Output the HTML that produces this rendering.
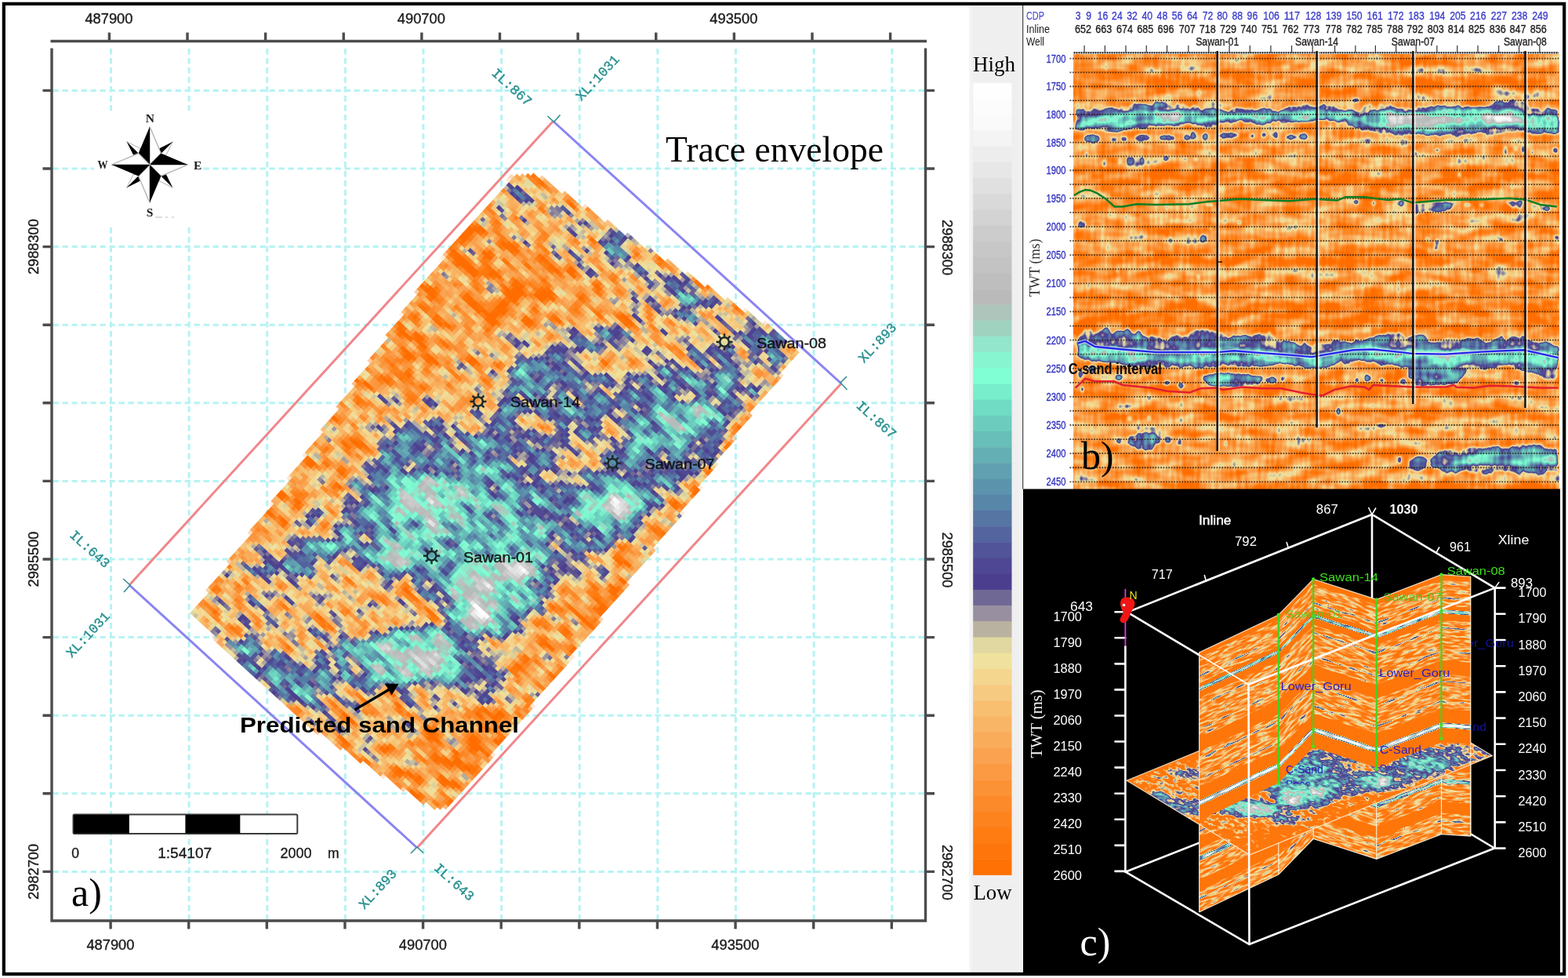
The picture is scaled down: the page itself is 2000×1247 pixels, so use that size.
<!DOCTYPE html>
<html lang="en">
<head>
<meta charset="utf-8">
<title>Trace envelope attribute map, seismic section and 3D view</title>
<style>
html,body{margin:0;padding:0;background:#fff;}
body{width:2000px;height:1247px;overflow:hidden;}
svg{display:block;}
.sans{font-family:"Liberation Sans","DejaVu Sans",sans-serif;}
.serif{font-family:"Liberation Serif","DejaVu Serif",serif;}
.mono{font-family:"Liberation Mono","DejaVu Sans Mono",monospace;}
text{white-space:pre;}
</style>
</head>
<body>
<svg width="2000" height="1247" viewBox="0 0 2000 1247">
<defs>

<clipPath id="mapclip"><polygon points="243,783 353,633 513,400 545,352 655,222 684,222 775,283 975,412 1021,447 960,525 873,650 741,823 580,1023 565,1031 550,1030 413,940 375,910 300,840"/></clipPath>
<filter id="mapblur" filterUnits="userSpaceOnUse" x="100" y="100" width="1100" height="1100" color-interpolation-filters="sRGB"><feGaussianBlur stdDeviation="7"/></filter>
<filter id="mapf" filterUnits="userSpaceOnUse" x="621" y="-371" width="510" height="803" color-interpolation-filters="sRGB">
<feTurbulence type="fractalNoise" baseFrequency="0.04 0.07" numOctaves="2" seed="11" result="n"/>
<feColorMatrix in="n" type="matrix" values="1 0 0 0 0  1 0 0 0 0  1 0 0 0 0  0 0 0 0 1" result="ng"/>
<feComposite in="SourceGraphic" in2="ng" operator="arithmetic" k1="0" k2="1" k3="0.72" k4="-0.36" result="s"/>
<feComposite in="s" in2="SourceGraphic" operator="in" result="sm"/>
<feFlood x="623" y="-369" width="1" height="1" flood-color="#000" result="px"/>
<feComposite in="px" in2="px" operator="over" x="621" y="-371" width="5" height="5" result="cell"/>
<feTile in="cell" result="grid"/>
<feComposite in="sm" in2="grid" operator="in" result="samp"/>
<feMorphology in="samp" operator="dilate" radius="2" result="mos"/>
<feComponentTransfer in="mos" result="col">
<feFuncR type="table" tableValues="1.000 0.999 0.998 0.998 0.997 0.996 0.995 0.993 0.991 0.990 0.988 0.987 0.985 0.984 0.982 0.980 0.979 0.977 0.976 0.974 0.973 0.971 0.969 0.967 0.965 0.957 0.949 0.941 0.910 0.878 0.804 0.729 0.663 0.596 0.518 0.439 0.369 0.298 0.303 0.308 0.314 0.319 0.324 0.329 0.333 0.337 0.341 0.345 0.353 0.361 0.369 0.376 0.384 0.392 0.400 0.408 0.416 0.424 0.431 0.439 0.455 0.471 0.486 0.502 0.518 0.533 0.549 0.575 0.601 0.627 0.651 0.678 0.714 0.729 0.738 0.747 0.755 0.764 0.773 0.782 0.791 0.800 0.813 0.826 0.839 0.852 0.865 0.878 0.892 0.905 0.918 0.930 0.943 0.955 0.968 0.980 0.984 0.988 0.992 0.996 1.000"/>
<feFuncG type="table" tableValues="0.431 0.442 0.453 0.464 0.475 0.486 0.500 0.515 0.529 0.543 0.557 0.573 0.588 0.604 0.620 0.635 0.654 0.673 0.692 0.711 0.729 0.751 0.773 0.794 0.816 0.839 0.863 0.886 0.867 0.847 0.773 0.698 0.631 0.565 0.486 0.408 0.325 0.243 0.261 0.280 0.298 0.329 0.361 0.392 0.425 0.459 0.492 0.525 0.551 0.576 0.602 0.627 0.657 0.686 0.716 0.745 0.775 0.804 0.833 0.863 0.897 0.931 0.966 1.000 0.980 0.961 0.941 0.902 0.863 0.824 0.800 0.772 0.730 0.729 0.738 0.747 0.755 0.764 0.773 0.782 0.791 0.800 0.813 0.826 0.839 0.852 0.865 0.878 0.892 0.905 0.918 0.930 0.943 0.955 0.968 0.980 0.984 0.988 0.992 0.996 1.000"/>
<feFuncB type="table" tableValues="0.000 0.014 0.028 0.042 0.056 0.071 0.094 0.118 0.141 0.165 0.188 0.213 0.238 0.264 0.289 0.314 0.334 0.355 0.375 0.395 0.416 0.445 0.475 0.504 0.533 0.562 0.591 0.620 0.624 0.627 0.627 0.627 0.627 0.627 0.604 0.580 0.569 0.557 0.567 0.578 0.588 0.599 0.609 0.620 0.629 0.639 0.649 0.659 0.667 0.675 0.682 0.690 0.698 0.706 0.714 0.722 0.733 0.745 0.757 0.769 0.784 0.800 0.816 0.831 0.826 0.821 0.816 0.795 0.774 0.753 0.744 0.734 0.724 0.729 0.738 0.747 0.755 0.764 0.773 0.782 0.791 0.800 0.813 0.826 0.839 0.852 0.865 0.878 0.892 0.905 0.918 0.930 0.943 0.955 0.968 0.980 0.984 0.988 0.992 0.996 1.000"/>
</feComponentTransfer>
<feGaussianBlur in="col" stdDeviation="0.75"/>
</filter>
<filter id="slicef" filterUnits="userSpaceOnUse" x="621" y="-371" width="510" height="803" color-interpolation-filters="sRGB">
<feTurbulence type="fractalNoise" baseFrequency="0.055 0.085" numOctaves="3" seed="4" result="n"/>
<feColorMatrix in="n" type="matrix" values="1 0 0 0 0  1 0 0 0 0  1 0 0 0 0  0 0 0 0 1" result="ng"/>
<feComposite in="SourceGraphic" in2="ng" operator="arithmetic" k1="0" k2="1" k3="0.62" k4="-0.33" result="s"/>
<feComposite in="s" in2="SourceGraphic" operator="in" result="sm"/>
<feComponentTransfer in="sm">
<feFuncR type="table" tableValues="0.997 0.997 0.997 0.997 0.997 0.997 0.997 0.997 0.997 0.997 0.997 0.997 0.997 0.997 0.997 0.997 0.997 0.997 0.995 0.991 0.987 0.984 0.980 0.976 0.973 0.968 0.960 0.941 0.910 0.878 0.804 0.729 0.663 0.596 0.518 0.439 0.369 0.298 0.303 0.308 0.314 0.319 0.324 0.329 0.333 0.337 0.341 0.345 0.353 0.361 0.369 0.376 0.384 0.392 0.400 0.408 0.416 0.424 0.431 0.439 0.455 0.471 0.486 0.502 0.518 0.533 0.549 0.575 0.601 0.627 0.651 0.678 0.714 0.729 0.738 0.747 0.755 0.764 0.773 0.782 0.791 0.800 0.813 0.826 0.839 0.852 0.865 0.878 0.892 0.905 0.918 0.930 0.943 0.955 0.968 0.980 0.984 0.988 0.992 0.996 1.000"/>
<feFuncG type="table" tableValues="0.470 0.470 0.470 0.470 0.470 0.470 0.470 0.470 0.470 0.470 0.470 0.470 0.470 0.470 0.470 0.470 0.470 0.470 0.498 0.531 0.565 0.602 0.640 0.684 0.728 0.779 0.831 0.886 0.867 0.847 0.773 0.698 0.631 0.565 0.486 0.408 0.325 0.243 0.261 0.280 0.298 0.329 0.361 0.392 0.425 0.459 0.492 0.525 0.551 0.576 0.602 0.627 0.657 0.686 0.716 0.745 0.775 0.804 0.833 0.863 0.897 0.931 0.966 1.000 0.980 0.961 0.941 0.902 0.863 0.824 0.800 0.772 0.730 0.729 0.738 0.747 0.755 0.764 0.773 0.782 0.791 0.800 0.813 0.826 0.839 0.852 0.865 0.878 0.892 0.905 0.918 0.930 0.943 0.955 0.968 0.980 0.984 0.988 0.992 0.996 1.000"/>
<feFuncB type="table" tableValues="0.049 0.049 0.049 0.049 0.049 0.049 0.049 0.049 0.049 0.049 0.049 0.049 0.049 0.049 0.049 0.049 0.049 0.049 0.091 0.146 0.202 0.261 0.319 0.367 0.415 0.483 0.552 0.620 0.624 0.627 0.627 0.627 0.627 0.627 0.604 0.580 0.569 0.557 0.567 0.578 0.588 0.599 0.609 0.620 0.629 0.639 0.649 0.659 0.667 0.675 0.682 0.690 0.698 0.706 0.714 0.722 0.733 0.745 0.757 0.769 0.784 0.800 0.816 0.831 0.826 0.821 0.816 0.795 0.774 0.753 0.744 0.734 0.724 0.729 0.738 0.747 0.755 0.764 0.773 0.782 0.791 0.800 0.813 0.826 0.839 0.852 0.865 0.878 0.892 0.905 0.918 0.930 0.943 0.955 0.968 0.980 0.984 0.988 0.992 0.996 1.000"/>
</feComponentTransfer>
</filter>
<linearGradient id="cbg" x1="0" y1="0" x2="1" y2="0"><stop offset="0" stop-color="#f7f7f7"/><stop offset="0.08" stop-color="#efefef"/><stop offset="0.92" stop-color="#efefef"/><stop offset="1" stop-color="#f4f4f4"/></linearGradient>
<filter id="secblur" filterUnits="userSpaceOnUse" x="1339.5" y="39.5" width="678.7" height="614.1" color-interpolation-filters="sRGB"><feGaussianBlur stdDeviation="1.7"/></filter>
<filter id="secf" filterUnits="userSpaceOnUse" x="1369.5" y="69.5" width="618.7" height="554.1" color-interpolation-filters="sRGB">
<feTurbulence type="fractalNoise" baseFrequency="0.03 0.07" numOctaves="2" seed="5" result="n"/>
<feColorMatrix in="n" type="matrix" values="1 0 0 0 0  1 0 0 0 0  1 0 0 0 0  0 0 0 0 1" result="ng"/>
<feTurbulence type="fractalNoise" baseFrequency="0.22 0.03" numOctaves="1" seed="9" result="n2"/>
<feColorMatrix in="n2" type="matrix" values="1 0 0 0 0  1 0 0 0 0  1 0 0 0 0  0 0 0 0 1" result="ng2"/>
<feComposite in="ng" in2="ng2" operator="arithmetic" k1="0" k2="0.68" k3="0.32" k4="0" result="nn"/>
<feComposite in="SourceGraphic" in2="nn" operator="arithmetic" k1="0" k2="1" k3="0.74" k4="-0.37" result="s"/>
<feComponentTransfer in="s">
<feFuncR type="table" tableValues="1.000 0.999 0.998 0.998 0.997 0.996 0.995 0.993 0.991 0.990 0.988 0.987 0.985 0.984 0.982 0.980 0.979 0.977 0.976 0.974 0.973 0.971 0.969 0.967 0.965 0.957 0.949 0.941 0.910 0.878 0.804 0.729 0.663 0.596 0.518 0.439 0.369 0.298 0.303 0.308 0.314 0.319 0.324 0.329 0.333 0.337 0.341 0.345 0.353 0.361 0.369 0.376 0.384 0.392 0.400 0.408 0.416 0.424 0.431 0.439 0.455 0.471 0.486 0.502 0.518 0.533 0.549 0.575 0.601 0.627 0.651 0.678 0.714 0.729 0.738 0.747 0.755 0.764 0.773 0.782 0.791 0.800 0.813 0.826 0.839 0.852 0.865 0.878 0.892 0.905 0.918 0.930 0.943 0.955 0.968 0.980 0.984 0.988 0.992 0.996 1.000"/>
<feFuncG type="table" tableValues="0.431 0.442 0.453 0.464 0.475 0.486 0.500 0.515 0.529 0.543 0.557 0.573 0.588 0.604 0.620 0.635 0.654 0.673 0.692 0.711 0.729 0.751 0.773 0.794 0.816 0.839 0.863 0.886 0.867 0.847 0.773 0.698 0.631 0.565 0.486 0.408 0.325 0.243 0.261 0.280 0.298 0.329 0.361 0.392 0.425 0.459 0.492 0.525 0.551 0.576 0.602 0.627 0.657 0.686 0.716 0.745 0.775 0.804 0.833 0.863 0.897 0.931 0.966 1.000 0.980 0.961 0.941 0.902 0.863 0.824 0.800 0.772 0.730 0.729 0.738 0.747 0.755 0.764 0.773 0.782 0.791 0.800 0.813 0.826 0.839 0.852 0.865 0.878 0.892 0.905 0.918 0.930 0.943 0.955 0.968 0.980 0.984 0.988 0.992 0.996 1.000"/>
<feFuncB type="table" tableValues="0.000 0.014 0.028 0.042 0.056 0.071 0.094 0.118 0.141 0.165 0.188 0.213 0.238 0.264 0.289 0.314 0.334 0.355 0.375 0.395 0.416 0.445 0.475 0.504 0.533 0.562 0.591 0.620 0.624 0.627 0.627 0.627 0.627 0.627 0.604 0.580 0.569 0.557 0.567 0.578 0.588 0.599 0.609 0.620 0.629 0.639 0.649 0.659 0.667 0.675 0.682 0.690 0.698 0.706 0.714 0.722 0.733 0.745 0.757 0.769 0.784 0.800 0.816 0.831 0.826 0.821 0.816 0.795 0.774 0.753 0.744 0.734 0.724 0.729 0.738 0.747 0.755 0.764 0.773 0.782 0.791 0.800 0.813 0.826 0.839 0.852 0.865 0.878 0.892 0.905 0.918 0.930 0.943 0.955 0.968 0.980 0.984 0.988 0.992 0.996 1.000"/>
<feFuncA type="linear" slope="0" intercept="1"/>
</feComponentTransfer>
</filter>
<filter id="fblur" filterUnits="objectBoundingBox" x="-0.05" y="-0.05" width="1.1" height="1.1" color-interpolation-filters="sRGB"><feGaussianBlur stdDeviation="0.7"/></filter>
<filter id="fencef" filterUnits="objectBoundingBox" x="0" y="0" width="1" height="1" color-interpolation-filters="sRGB">
<feTurbulence type="fractalNoise" baseFrequency="0.07 0.38" numOctaves="2" seed="21" result="n"/>
<feColorMatrix in="n" type="matrix" values="1 0 0 0 0  1 0 0 0 0  1 0 0 0 0  0 0 0 0 1" result="ng"/>
<feComposite in="SourceGraphic" in2="ng" operator="arithmetic" k1="0" k2="1" k3="0.62" k4="-0.31" result="s"/>
<feComposite in="s" in2="SourceGraphic" operator="in" result="sm"/>
<feComponentTransfer in="sm">
<feFuncR type="table" tableValues="0.998 0.998 0.998 0.998 0.998 0.998 0.998 0.998 0.998 0.998 0.998 0.998 0.998 0.998 0.998 0.998 0.998 0.998 0.998 0.998 0.998 0.998 0.998 0.998 0.998 0.998 0.998 0.998 0.998 0.998 0.998 0.998 0.998 0.998 0.998 0.998 0.998 0.998 0.998 0.998 0.998 0.998 0.998 0.996 0.994 0.991 0.988 0.985 0.983 0.980 0.977 0.975 0.973 0.970 0.967 0.964 0.953 0.947 0.941 0.918 0.894 0.860 0.804 0.713 0.629 0.537 0.439 0.351 0.301 0.307 0.314 0.325 0.335 0.344 0.359 0.376 0.394 0.411 0.428 0.452 0.486 0.516 0.546 0.593 0.641 0.696 0.732 0.749 0.766 0.783 0.800 0.825 0.850 0.875 0.899 0.924 0.948 0.972 0.985 0.993 1.000"/>
<feFuncG type="table" tableValues="0.464 0.464 0.464 0.464 0.464 0.464 0.464 0.464 0.464 0.464 0.464 0.464 0.464 0.464 0.464 0.464 0.464 0.464 0.464 0.464 0.464 0.464 0.464 0.464 0.464 0.464 0.464 0.464 0.464 0.464 0.464 0.464 0.464 0.464 0.464 0.464 0.464 0.464 0.464 0.464 0.464 0.464 0.464 0.484 0.507 0.532 0.557 0.584 0.612 0.640 0.673 0.700 0.726 0.756 0.787 0.818 0.851 0.869 0.886 0.872 0.857 0.828 0.773 0.681 0.598 0.506 0.408 0.305 0.252 0.275 0.298 0.367 0.439 0.512 0.571 0.627 0.692 0.757 0.822 0.890 0.966 0.982 0.945 0.875 0.810 0.751 0.732 0.749 0.766 0.783 0.800 0.825 0.850 0.875 0.899 0.924 0.948 0.972 0.985 0.993 1.000"/>
<feFuncB type="table" tableValues="0.042 0.042 0.042 0.042 0.042 0.042 0.042 0.042 0.042 0.042 0.042 0.042 0.042 0.042 0.042 0.042 0.042 0.042 0.042 0.042 0.042 0.042 0.042 0.042 0.042 0.042 0.042 0.042 0.042 0.042 0.042 0.042 0.042 0.042 0.042 0.042 0.042 0.042 0.042 0.042 0.042 0.042 0.042 0.067 0.106 0.147 0.188 0.232 0.276 0.319 0.355 0.383 0.412 0.452 0.494 0.536 0.576 0.598 0.620 0.623 0.625 0.627 0.627 0.627 0.627 0.610 0.580 0.566 0.562 0.575 0.588 0.611 0.633 0.655 0.673 0.690 0.707 0.726 0.752 0.781 0.816 0.827 0.817 0.780 0.747 0.729 0.732 0.749 0.766 0.783 0.800 0.825 0.850 0.875 0.899 0.924 0.948 0.972 0.985 0.993 1.000"/>
</feComponentTransfer>
</filter>
<clipPath id="sliceclip"><polygon points="1437,995.2 1746.4,868.6 1903.4,963.6 1594,1090"/></clipPath>
<clipPath id="fsu0"><polygon points="1529.6,832 1631.1,784 1631.1,998 1529.6,1046"/></clipPath>
<clipPath id="fsl0"><polygon points="1529.6,1045.5 1631.1,997.5 1631.1,1115 1529.6,1163"/></clipPath>
<clipPath id="fsu1"><polygon points="1630.8,784 1675.5,738.5 1675.5,952.5 1630.8,998"/></clipPath>
<clipPath id="fsl1"><polygon points="1630.8,997.5 1675.5,952 1675.5,1069.5 1630.8,1115"/></clipPath>
<clipPath id="fsu2"><polygon points="1675.2,738.5 1756,764.4 1756,978.4 1675.2,952.5"/></clipPath>
<clipPath id="fsl2"><polygon points="1675.2,952 1756,977.9 1756,1095.4 1675.2,1069.5"/></clipPath>
<clipPath id="fsu3"><polygon points="1755.7,764.4 1838.8,732.6 1838.8,946.6 1755.7,978.4"/></clipPath>
<clipPath id="fsl3"><polygon points="1755.7,977.9 1838.8,946.1 1838.8,1063.6 1755.7,1095.4"/></clipPath>
<clipPath id="fsu4"><polygon points="1838.5,732.6 1876.1,735.2 1876.1,949.2 1838.5,946.6"/></clipPath>
<clipPath id="fsl4"><polygon points="1838.5,946.1 1876.1,948.7 1876.1,1066.2 1838.5,1063.6"/></clipPath>
<clipPath id="rgclip"><rect x="1876.5" y="790" width="60" height="160"/></clipPath>
<clipPath id="baseclip1"><rect x="1755" y="960" width="60" height="18.5"/></clipPath>
<clipPath id="baseclip2"><rect x="1635" y="980" width="60" height="19.5"/></clipPath>
</defs>
<rect x="0" y="0" width="2000" height="1247" fill="#ffffff"/>
<g id="panel-a">
<path d="M141.5 62V1173M241.12 62V1173M340.74 62V1173M440.36 62V1173M539.98 62V1173M639.6 62V1173M739.22 62V1173M838.84 62V1173M938.46 62V1173M1038.08 62V1173M1137.7 62V1173M67.5 115.4H1179M67.5 215H1179M67.5 314.6H1179M67.5 414.2H1179M67.5 513.8H1179M67.5 613.4H1179M67.5 713H1179M67.5 812.6H1179M67.5 912.2H1179M67.5 1011.8H1179M67.5 1111.4H1179" fill="none" stroke="#b6f3f3" stroke-width="3" stroke-dasharray="7.4 4.6"/>
<polygon points="247.67,781.12 356.35,632.92 514.43,402.71 546.04,355.29 654.72,226.85 683.38,226.85 773.28,287.12 970.88,414.57 1016.33,449.15 956.06,526.21 870.11,649.71 739.69,820.64 580.62,1018.24 565.8,1026.14 550.98,1025.15 415.63,936.23 378.08,906.59 303.98,837.43" fill="#fa9e4a"/>
<path d="M432.94 674.11C432.94 657.64 438.82 634.11 447.05 617.64C455.29 601.17 471.76 587.64 482.35 575.28C492.93 562.93 496.46 549.99 510.58 543.52C524.7 537.05 551.17 534.7 567.05 536.46C582.93 538.23 594.7 558.23 605.87 554.11C617.05 549.99 626.46 526.46 634.11 511.76C641.75 497.05 641.75 477.64 651.75 465.88C661.75 454.11 677.64 448.23 694.11 441.17C710.58 434.11 732.93 425.88 750.58 423.52C768.22 421.17 789.4 420.58 799.99 427.05C810.57 433.52 804.69 456.46 814.1 462.35C823.51 468.23 841.16 464.46 856.46 462.35C871.75 460.23 890.57 451.05 905.87 449.64C921.16 448.23 935.28 451.52 948.22 453.88C961.16 456.23 976.45 458.58 983.51 463.76C990.57 468.93 996.45 475.76 990.57 484.93C984.69 494.11 962.34 503.76 948.22 518.82C934.1 533.87 921.16 556.46 905.87 575.28C890.57 594.11 870.57 615.28 856.46 631.75C842.34 648.22 836.46 661.75 821.16 674.11C805.87 686.46 782.34 695.28 764.69 705.87C747.05 716.46 728.22 724.1 715.28 737.63C702.34 751.16 697.64 774.1 687.05 787.04C676.46 799.99 667.05 810.57 651.75 815.28C636.46 819.98 609.4 819.98 595.28 815.28C581.17 810.57 577.64 798.81 567.05 787.04C556.46 775.28 545.87 752.93 531.76 744.69C517.64 736.46 496.46 742.34 482.35 737.63C468.23 732.93 455.29 727.05 447.05 716.46C438.82 705.87 432.94 690.58 432.94 674.11Z" fill="#54649e" clip-path="url(#mapclip)"/>
<path d="M296.18 822.63C296.85 814.95 310.88 810.94 320.24 812.61C329.6 814.28 340.29 828.64 352.32 832.65C364.35 836.66 381.05 839.34 392.41 836.66C403.77 833.99 410.46 821.96 420.48 816.62C430.51 811.27 439.19 807.26 452.56 804.59C465.92 801.91 481.96 801.25 500.67 800.58C519.39 799.91 547.45 797.9 564.83 800.58C582.2 803.25 594.9 809.93 604.92 816.62C614.95 823.3 618.29 833.99 624.97 840.67C631.65 847.36 643.02 850.7 645.02 856.71C647.02 862.73 642.35 870.75 637 876.76C631.65 882.77 622.3 892.8 612.94 892.8C603.59 892.8 589.55 880.44 580.87 876.76C572.18 873.08 568.84 870.08 560.82 870.75C552.8 871.41 542.77 879.77 532.75 880.77C522.73 881.77 512.7 877.43 500.67 876.76C488.64 876.09 471.27 875.76 460.58 876.76C449.89 877.76 444.54 878.77 436.52 882.77C428.5 886.78 421.82 898.48 412.46 900.82C403.11 903.16 392.41 900.82 380.38 896.81C368.36 892.8 350.98 883.11 340.29 876.76C329.6 870.41 323.58 867.74 316.23 858.72C308.88 849.7 295.51 830.32 296.18 822.63Z" fill="#54649e" clip-path="url(#mapclip)"/>
<g transform="rotate(42.4)" filter="url(#mapf)">
<g transform="rotate(-42.4)" clip-path="url(#mapclip)">
<g filter="url(#mapblur)">
<rect x="150" y="150" width="1000" height="1000" fill="#252525"/>
<path d="M496.46 575.28C519.99 551.76 541.17 503.52 567.05 476.46C592.93 449.41 623.52 427.05 651.75 412.94C679.99 398.82 705.87 401.17 736.46 391.76C767.05 382.35 807.04 361.17 835.28 356.47C863.51 351.76 875.28 348.23 905.87 363.53C936.45 378.82 1007.04 423.52 1018.8 448.23C1030.57 472.93 1007.04 467.05 976.45 511.76C945.86 556.46 882.34 654.11 835.28 716.46C788.22 778.81 734.11 848.22 694.11 885.87C654.11 923.51 638.81 932.92 595.28 942.34C551.76 951.75 481.17 957.63 432.94 942.34C384.7 927.04 337.64 876.45 305.88 850.57C274.12 824.69 236.47 816.46 242.35 787.04C248.23 757.63 310.59 702.34 341.17 674.11C371.76 645.87 400 634.11 425.88 617.64C451.76 601.17 472.93 598.81 496.46 575.28Z" fill="#343434"/>
<path d="M700 250C711.67 247.5 736.67 270.83 760 285C783.33 299.17 814.17 318.33 840 335C865.83 351.67 890 368.33 915 385C940 401.67 982.5 420.83 990 435C997.5 449.17 975 469.17 960 470C945 470.83 920 448.33 900 440C880 431.67 856.67 430 840 420C823.33 410 816.67 393.33 800 380C783.33 366.67 758.33 353.33 740 340C721.67 326.67 696.67 315 690 300C683.33 285 688.33 252.5 700 250Z" fill="#3e3e3e"/>
<path d="M312.22 736.42C330.26 731.75 366.35 745.78 388.4 748.45C410.46 751.13 431.84 746.45 444.54 752.46C457.24 758.48 461.91 774.51 464.59 784.54C467.26 794.56 472.61 803.92 460.58 812.61C448.55 821.29 410.46 833.32 392.41 836.66C374.37 840.01 364.35 836.66 352.32 832.65C340.29 828.64 332.27 821.96 320.24 812.61C308.21 803.25 281.48 789.22 280.14 776.52C278.81 763.82 294.18 741.1 312.22 736.42Z" fill="#393939"/>
<path d="M640 235C653.33 230 686.67 230.83 700 240C713.33 249.17 726.67 280 720 290C713.33 300 676.67 303.33 660 300C643.33 296.67 623.33 280.83 620 270C616.67 259.17 626.67 240 640 235Z" fill="#3e3e3e"/>
<path d="M470 520C476.67 501.67 505 473.33 520 470C535 466.67 560 485 560 500C560 515 533.33 546.67 520 560C506.67 573.33 488.33 586.67 480 580C471.67 573.33 463.33 538.33 470 520Z" fill="#3e3e3e"/>
<path d="M432.94 674.11C432.94 657.64 438.82 634.11 447.05 617.64C455.29 601.17 471.76 587.64 482.35 575.28C492.93 562.93 496.46 549.99 510.58 543.52C524.7 537.05 551.17 534.7 567.05 536.46C582.93 538.23 594.7 558.23 605.87 554.11C617.05 549.99 626.46 526.46 634.11 511.76C641.75 497.05 641.75 477.64 651.75 465.88C661.75 454.11 677.64 448.23 694.11 441.17C710.58 434.11 732.93 425.88 750.58 423.52C768.22 421.17 789.4 420.58 799.99 427.05C810.57 433.52 804.69 456.46 814.1 462.35C823.51 468.23 841.16 464.46 856.46 462.35C871.75 460.23 890.57 451.05 905.87 449.64C921.16 448.23 935.28 451.52 948.22 453.88C961.16 456.23 976.45 458.58 983.51 463.76C990.57 468.93 996.45 475.76 990.57 484.93C984.69 494.11 962.34 503.76 948.22 518.82C934.1 533.87 921.16 556.46 905.87 575.28C890.57 594.11 870.57 615.28 856.46 631.75C842.34 648.22 836.46 661.75 821.16 674.11C805.87 686.46 782.34 695.28 764.69 705.87C747.05 716.46 728.22 724.1 715.28 737.63C702.34 751.16 697.64 774.1 687.05 787.04C676.46 799.99 667.05 810.57 651.75 815.28C636.46 819.98 609.4 819.98 595.28 815.28C581.17 810.57 577.64 798.81 567.05 787.04C556.46 775.28 545.87 752.93 531.76 744.69C517.64 736.46 496.46 742.34 482.35 737.63C468.23 732.93 455.29 727.05 447.05 716.46C438.82 705.87 432.94 690.58 432.94 674.11Z" fill="#6b6b6b"/>
<path d="M320.24 720.38C320.91 714.37 340.29 709.02 352.32 704.35C364.35 699.67 383.06 689.64 392.41 692.32C401.77 694.99 409.12 712.37 408.45 720.38C407.78 728.4 398.43 737.09 388.4 740.43C378.38 743.77 359.67 743.77 348.31 740.43C336.95 737.09 319.57 726.4 320.24 720.38Z" fill="#6b6b6b"/>
<path d="M296.18 822.63C296.85 814.95 310.88 810.94 320.24 812.61C329.6 814.28 340.29 828.64 352.32 832.65C364.35 836.66 381.05 839.34 392.41 836.66C403.77 833.99 410.46 821.96 420.48 816.62C430.51 811.27 439.19 807.26 452.56 804.59C465.92 801.91 481.96 801.25 500.67 800.58C519.39 799.91 547.45 797.9 564.83 800.58C582.2 803.25 594.9 809.93 604.92 816.62C614.95 823.3 618.29 833.99 624.97 840.67C631.65 847.36 643.02 850.7 645.02 856.71C647.02 862.73 642.35 870.75 637 876.76C631.65 882.77 622.3 892.8 612.94 892.8C603.59 892.8 589.55 880.44 580.87 876.76C572.18 873.08 568.84 870.08 560.82 870.75C552.8 871.41 542.77 879.77 532.75 880.77C522.73 881.77 512.7 877.43 500.67 876.76C488.64 876.09 471.27 875.76 460.58 876.76C449.89 877.76 444.54 878.77 436.52 882.77C428.5 886.78 421.82 898.48 412.46 900.82C403.11 903.16 392.41 900.82 380.38 896.81C368.36 892.8 350.98 883.11 340.29 876.76C329.6 870.41 323.58 867.74 316.23 858.72C308.88 849.7 295.51 830.32 296.18 822.63Z" fill="#6b6b6b"/>
<path d="M770 296C775 292.67 793.33 295 800 300C806.67 305 811.67 320 810 326C808.33 332 796.67 337 790 336C783.33 335 773.33 326.67 770 320C766.67 313.33 765 299.33 770 296Z" fill="#6b6b6b"/>
<path d="M850 342C854 339 864.33 339.67 872 348C879.67 356.33 893.67 381 896 392C898.33 403 891.67 413.33 886 414C880.33 414.67 868.33 404 862 396C855.67 388 850 375 848 366C846 357 846 345 850 342Z" fill="#6b6b6b"/>
<path d="M898 372C900.33 370 911.33 373 914 376C916.67 379 916.33 388 914 390C911.67 392 902.67 391 900 388C897.33 385 895.67 374 898 372Z" fill="#6b6b6b"/>
<path d="M966 414C972 410.33 984.33 413.67 990 418C995.67 422.33 999.33 431.67 1000 440C1000.67 448.33 999.67 463 994 468C988.33 473 972.67 474.67 966 470C959.33 465.33 954 449.33 954 440C954 430.67 960 417.67 966 414Z" fill="#6b6b6b"/>
<path d="M896 426C898.67 421.67 912 420.67 916 424C920 427.33 922.67 441.67 920 446C917.33 450.33 904 453.33 900 450C896 446.67 893.33 430.33 896 426Z" fill="#6b6b6b"/>
<path d="M650 236C652 233 660.33 235.67 662 240C663.67 244.33 662 259 660 262C658 265 651.67 262.33 650 258C648.33 253.67 648 239 650 236Z" fill="#6b6b6b"/>
<path d="M732.41 452.22C736.42 446.21 754.47 442.87 768.5 440.19C782.53 437.52 804.59 434.18 816.62 436.18C828.64 438.19 840.67 444.87 840.67 452.22C840.67 459.57 827.31 474.94 816.62 480.29C805.92 485.63 788.55 484.97 776.52 484.3C764.49 483.63 751.79 481.63 744.44 476.28C737.09 470.93 728.4 458.24 732.41 452.22Z" fill="#3e3e3e"/>
<path d="M692.32 584.54C696.33 577.19 715.71 574.51 728.4 568.5C741.1 562.49 759.14 555.13 768.5 548.45C777.86 541.77 779.19 528.4 784.54 528.4C789.89 528.4 803.25 539.1 800.58 548.45C797.9 557.81 779.19 574.51 768.5 584.54C757.81 594.56 747.12 603.92 736.42 608.6C725.73 613.27 711.7 616.62 704.35 612.61C697 608.6 688.31 591.89 692.32 584.54Z" fill="#3e3e3e"/>
<path d="M664.25 512.37C669.6 510.36 684.3 522.39 692.32 528.4C700.34 534.42 713.03 543.11 712.37 548.45C711.7 553.8 697 561.82 688.31 560.48C679.62 559.14 664.25 548.45 660.24 540.43C656.23 532.41 658.9 514.37 664.25 512.37Z" fill="#3e3e3e"/>
<path d="M856.71 432.17C864.06 426.83 884.78 420.81 892.8 424.15C900.82 427.5 908.17 444.87 904.83 452.22C901.49 459.57 882.11 467.59 872.75 468.26C863.39 468.93 851.37 462.25 848.69 456.23C846.02 450.22 849.36 437.52 856.71 432.17Z" fill="#3e3e3e"/>
<path d="M936.9 460.24C937.57 453.56 953.61 449.55 960.96 452.22C968.31 454.89 981.68 469.6 981.01 476.28C980.34 482.96 964.3 494.99 956.95 492.32C949.6 489.64 936.24 466.92 936.9 460.24Z" fill="#3e3e3e"/>
<path d="M444.54 752.46C452.56 741.1 465.92 734.42 476.62 732.41C487.31 730.41 499.34 735.09 508.69 740.43C518.05 745.78 526.74 756.47 532.75 764.49C538.77 772.51 550.13 782.53 544.78 788.55C539.43 794.56 514.71 796.57 500.67 800.58C486.64 804.59 472.61 812.61 460.58 812.61C448.55 812.61 431.17 810.6 428.5 800.58C425.83 790.55 436.52 763.82 444.54 752.46Z" fill="#343434"/>
<path d="M500.67 584.06C507.36 582.72 519.39 597.42 532.75 600.1C546.12 602.77 566.16 602.77 580.87 600.1C595.57 597.42 608.93 582.72 620.96 584.06C632.99 585.39 645.69 598.76 653.04 608.12C660.39 617.47 658.39 630.84 665.07 640.19C671.75 649.55 687.12 654.89 693.14 664.25C699.15 673.61 703.83 684.3 701.15 696.33C698.48 708.36 686.45 723.06 677.1 736.42C667.74 749.79 654.38 765.83 645.02 776.52C635.66 787.21 630.32 797.24 620.96 800.58C611.61 803.92 596.9 803.25 588.89 796.57C580.87 789.89 580.87 770.51 572.85 760.48C564.83 750.46 550.13 743.11 540.77 736.42C531.41 729.74 526.07 723.06 516.71 720.38C507.36 717.71 492.65 724.39 484.64 720.38C476.62 716.38 469.93 705.68 468.6 696.33C467.26 686.97 471.27 673.61 476.62 664.25C481.96 654.89 498 649.55 500.67 640.19C503.35 630.84 492.65 617.47 492.65 608.12C492.65 598.76 493.99 585.39 500.67 584.06Z" fill="#8a8a8a"/>
<path d="M508.69 608.12C516.04 603.44 528.74 610.79 540.77 612.13C552.8 613.46 571.51 610.12 580.87 616.13C590.22 622.15 596.9 637.52 596.9 648.21C596.9 658.9 590.22 673.61 580.87 680.29C571.51 686.97 552.8 689.64 540.77 688.31C528.74 686.97 516.04 680.29 508.69 672.27C501.34 664.25 496.66 650.88 496.66 640.19C496.66 629.5 501.34 612.79 508.69 608.12Z" fill="#9c9c9c"/>
<path d="M580.87 720.38C588.22 713.7 607.6 715.04 620.96 712.37C634.33 709.69 651.03 701.67 661.06 704.35C671.08 707.02 681.11 717.71 681.11 728.4C681.11 739.1 669.75 757.81 661.06 768.5C652.37 779.19 640.34 788.55 628.98 792.56C617.62 796.57 601.58 799.24 592.89 792.56C584.21 785.88 578.86 764.49 576.86 752.46C574.85 740.43 573.52 727.07 580.87 720.38Z" fill="#9c9c9c"/>
<path d="M460.58 824.64C466.59 817.62 485.97 808.26 500.67 804.59C515.38 800.91 535.76 800.24 548.79 802.58C561.82 804.92 573.52 810.94 578.86 818.62C584.21 826.31 583.54 840.67 580.87 848.69C578.19 856.71 572.18 863.06 562.82 866.74C553.47 870.41 537.43 871.41 524.73 870.75C512.03 870.08 496.66 866.74 486.64 862.73C476.62 858.72 468.93 853.04 464.59 846.69C460.24 840.34 454.56 831.65 460.58 824.64Z" fill="#9c9c9c"/>
<path d="M808.6 544.44C812.61 536.42 829.98 525.73 840.67 520.38C851.37 515.04 860.72 512.37 872.75 512.37C884.78 512.37 904.83 515.04 912.85 520.38C920.87 525.73 924.88 536.42 920.87 544.44C916.86 552.46 900.82 563.15 888.79 568.5C876.76 573.85 860.72 576.52 848.69 576.52C836.66 576.52 823.3 573.85 816.62 568.5C809.93 563.15 804.59 552.46 808.6 544.44Z" fill="#949494"/>
<path d="M732.41 634.66C737.43 628.31 751.46 620.63 762.49 618.62C773.51 616.62 789.89 618.95 798.57 622.63C807.26 626.31 813.27 633.99 814.61 640.67C815.95 647.36 812.94 657.05 806.59 662.73C800.24 668.41 786.54 673.42 776.52 674.76C766.5 676.09 753.8 673.75 746.45 670.75C739.1 667.74 734.75 662.73 732.41 656.71C730.07 650.7 727.4 641.01 732.41 634.66Z" fill="#9c9c9c"/>
<path d="M660.24 476.28C664.92 472.27 681.63 469.6 688.31 472.27C694.99 474.94 701.67 486.97 700.34 492.32C699 497.66 686.97 503.68 680.29 504.35C673.61 505.01 663.58 501.01 660.24 496.33C656.9 491.65 655.56 480.29 660.24 476.28Z" fill="#808080"/>
<path d="M300.19 824.64C304.2 820.63 318.24 817.95 324.25 820.63C330.26 823.3 336.95 835.33 336.28 840.67C335.61 846.02 326.26 852.03 320.24 852.7C314.23 853.37 303.53 849.36 300.19 844.68C296.85 840.01 296.18 828.64 300.19 824.64Z" fill="#808080"/>
<path d="M388.4 692.32C393.75 686.97 412.46 678.95 420.48 680.29C428.5 681.63 437.86 693.65 436.52 700.34C435.18 707.02 420.48 718.38 412.46 720.38C404.44 722.39 392.41 717.04 388.4 712.37C384.39 707.69 383.06 697.66 388.4 692.32Z" fill="#808080"/>
<path d="M340.29 864.73C344.97 862.73 363.68 865.4 372.37 868.74C381.05 872.08 392.41 880.77 392.41 884.78C392.41 888.79 380.38 893.47 372.37 892.8C364.35 892.13 349.64 885.45 344.3 880.77C338.95 876.09 335.61 866.74 340.29 864.73Z" fill="#808080"/>
<path d="M512.7 620.14C522.06 615.47 554.8 610.79 564.83 616.13C574.85 621.48 578.19 644.2 572.85 652.22C567.5 660.24 543.44 665.59 532.75 664.25C522.06 662.91 512.03 651.55 508.69 644.2C505.35 636.85 503.35 624.82 512.7 620.14Z" fill="#b8b8b8"/>
<path d="M488.64 696.33C492.65 690.98 511.37 688.31 516.71 692.32C522.06 696.33 524.73 715.04 520.72 720.38C516.71 725.73 498 728.4 492.65 724.39C487.31 720.38 484.64 701.67 488.64 696.33Z" fill="#b8b8b8"/>
<path d="M632.99 712.37C638.34 706.35 665.74 703.68 673.09 708.36C680.44 713.03 682.44 734.42 677.1 740.43C671.75 746.45 648.36 749.12 641.01 744.44C633.66 739.76 627.65 718.38 632.99 712.37Z" fill="#b8b8b8"/>
<path d="M580.87 736.42C586.21 725.73 612.94 727.07 620.96 732.41C628.98 737.76 628.98 757.81 628.98 768.5C628.98 779.19 627.65 791.89 620.96 796.57C614.28 801.25 595.57 806.59 588.89 796.57C582.2 786.54 575.52 747.12 580.87 736.42Z" fill="#b8b8b8"/>
<path d="M492.65 824.64C503.35 817.95 552.13 815.28 564.83 820.63C577.52 825.97 579.53 850.03 568.84 856.71C558.14 863.39 513.37 866.07 500.67 860.72C487.98 855.38 481.96 831.32 492.65 824.64Z" fill="#b8b8b8"/>
<path d="M594.9 778.52C598.91 775.52 616.62 775.52 620.96 778.52C625.31 781.53 624.97 793.56 620.96 796.57C616.95 799.57 601.25 799.57 596.9 796.57C592.56 793.56 590.89 781.53 594.9 778.52Z" fill="#f2f2f2"/>
<path d="M645.02 718.38C648.36 715.37 663.4 713.7 667.07 716.38C670.75 719.05 670.41 731.41 667.07 734.42C663.73 737.43 650.7 737.09 647.02 734.42C643.35 731.75 641.68 721.39 645.02 718.38Z" fill="#f2f2f2"/>
<path d="M544.78 828.64C547.45 826.31 558.14 826.31 560.82 828.64C563.49 830.98 563.49 840.34 560.82 842.68C558.14 845.02 547.45 845.02 544.78 842.68C542.11 840.34 542.11 830.98 544.78 828.64Z" fill="#f2f2f2"/>
<path d="M768.5 620.63C772.51 614.61 794.56 619.29 800.58 624.64C806.59 629.98 808.6 646.69 804.59 652.7C800.58 658.72 782.53 666.07 776.52 660.72C770.51 655.38 764.49 626.64 768.5 620.63Z" fill="#b8b8b8"/>
<path d="M780.53 640.67C783.54 638 795.57 638 798.57 640.67C801.58 643.35 801.58 654.04 798.57 656.71C795.57 659.39 783.54 659.39 780.53 656.71C777.52 654.04 777.52 643.35 780.53 640.67Z" fill="#f2f2f2"/>
<path d="M1013.09 456.23C1004.4 461.58 992.37 478.95 981.01 492.32C969.65 505.68 954.95 523.06 944.92 536.42C934.9 549.79 931.56 558.48 920.87 572.51C910.17 586.54 894.14 605.26 880.77 620.63C867.4 636 851.37 654.71 840.67 664.73C829.98 674.76 825.97 674.09 816.62 680.77C807.26 687.45 792.56 695.47 784.54 704.83C776.52 714.18 777.86 727.55 768.5 736.9C759.14 746.26 741.1 752.94 728.4 760.96C715.71 768.98 700.34 775.66 692.32 785.02C684.3 794.38 685.63 804.6 680.29 817.1C674.94 829.59 652.22 852.85 660.24 860C668.26 867.15 666.26 926.63 728.4 860C790.55 793.37 985.69 527.54 1033.14 460.24C1080.58 392.95 1021.77 450.88 1013.09 456.23Z" fill="#252525"/>
<path d="M600 290C615 286.67 643.33 291.67 660 300C676.67 308.33 690 325 700 340C710 355 723.33 376.67 720 390C716.67 403.33 696.67 418.33 680 420C663.33 421.67 636.67 410 620 400C603.33 390 588.33 373.33 580 360C571.67 346.67 566.67 331.67 570 320C573.33 308.33 585 293.33 600 290Z" fill="#1a1a1a"/>
<path d="M560 930C573.33 916.67 616.67 900 640 900C663.33 900 693.33 915 700 930C706.67 945 696.67 976.67 680 990C663.33 1003.33 620 1011.67 600 1010C580 1008.33 566.67 993.33 560 980C553.33 966.67 546.67 943.33 560 930Z" fill="#1a1a1a"/>
<path d="M480 440C483.33 426.67 506.67 418.33 520 420C533.33 421.67 556.67 436.67 560 450C563.33 463.33 550 491.67 540 500C530 508.33 510 510 500 500C490 490 476.67 453.33 480 440Z" fill="#1a1a1a"/>
</g></g></g>
<path d="M165 746L705.5 154.5M1073 489L532 1081" stroke="#f0868a" stroke-width="3" fill="none"/>
<path d="M705.5 154.5L1073 489M532 1081L165 746" stroke="#8a84f2" stroke-width="3" fill="none"/>
<path d="M698.5 148L706.5 155.5M706.5 155.5L714.5 146.5M1072 488L1080 480M1072 488L1080.5 497M524 1088L532 1080M532 1080L540 1087.5M157 738L166 746M166 746L158 755" stroke="#2f8f8f" stroke-width="1.6" fill="none"/>
<text class="mono" font-size="17.2" fill="#2b9191" stroke="#2b9191" stroke-width="0.45" text-anchor="middle" transform="translate(653 111) rotate(42)" y="5.68">IL:867</text>
<text class="mono" font-size="17.2" fill="#2b9191" stroke="#2b9191" stroke-width="0.45" text-anchor="middle" transform="translate(762 99) rotate(-47)" y="5.68">XL:1031</text>
<text class="mono" font-size="17.2" fill="#2b9191" stroke="#2b9191" stroke-width="0.45" text-anchor="middle" transform="translate(1119 437) rotate(-47)" y="5.68">XL:893</text>
<text class="mono" font-size="17.2" fill="#2b9191" stroke="#2b9191" stroke-width="0.45" text-anchor="middle" transform="translate(1118 535) rotate(42)" y="5.68">IL:867</text>
<text class="mono" font-size="17.2" fill="#2b9191" stroke="#2b9191" stroke-width="0.45" text-anchor="middle" transform="translate(114.7 700) rotate(42)" y="5.68">IL:643</text>
<text class="mono" font-size="17.2" fill="#2b9191" stroke="#2b9191" stroke-width="0.45" text-anchor="middle" transform="translate(112 809) rotate(-47)" y="5.68">XL:1031</text>
<text class="mono" font-size="17.2" fill="#2b9191" stroke="#2b9191" stroke-width="0.45" text-anchor="middle" transform="translate(481.6 1133.4) rotate(-47)" y="5.68">XL:893</text>
<text class="mono" font-size="17.2" fill="#2b9191" stroke="#2b9191" stroke-width="0.45" text-anchor="middle" transform="translate(579.5 1124.5) rotate(42)" y="5.68">IL:643</text>
<path d="M64.5 52.5H1182M139.4 41.5V52.5M239.02 41.5V52.5M338.64 41.5V52.5M438.26 41.5V52.5M537.88 41.5V52.5M637.5 41.5V52.5M737.12 41.5V52.5M836.74 41.5V52.5M936.36 41.5V52.5M1035.98 41.5V52.5M1135.6 41.5V52.5M66 61.5V1174H1180.5V61.5M54.5 115.4H66M1180.5 115.4H1192M54.5 215H66M1180.5 215H1192M54.5 314.6H66M1180.5 314.6H1192M54.5 414.2H66M1180.5 414.2H1192M54.5 513.8H66M1180.5 513.8H1192M54.5 613.4H66M1180.5 613.4H1192M54.5 713H66M1180.5 713H1192M54.5 812.6H66M1180.5 812.6H1192M54.5 912.2H66M1180.5 912.2H1192M54.5 1011.8H66M1180.5 1011.8H1192M54.5 1111.4H66M1180.5 1111.4H1192M141.1 1174V1184.5M240.72 1174V1184.5M340.34 1174V1184.5M439.96 1174V1184.5M539.58 1174V1184.5M639.2 1174V1184.5M738.82 1174V1184.5M838.44 1174V1184.5M938.06 1174V1184.5M1037.68 1174V1184.5M1137.3 1174V1184.5" fill="none" stroke="#4c4c4c" stroke-width="3.4"/>
<text x="138.9" y="30.3" class="sans" font-size="17.5" fill="#1a1a1a" stroke="#1a1a1a" stroke-width="0.35" text-anchor="middle" textLength="61" lengthAdjust="spacingAndGlyphs">487900</text>
<text x="140.9" y="1211.3" class="sans" font-size="17.5" fill="#1a1a1a" stroke="#1a1a1a" stroke-width="0.35" text-anchor="middle" textLength="61" lengthAdjust="spacingAndGlyphs">487900</text>
<text x="537.38" y="30.3" class="sans" font-size="17.5" fill="#1a1a1a" stroke="#1a1a1a" stroke-width="0.35" text-anchor="middle" textLength="61" lengthAdjust="spacingAndGlyphs">490700</text>
<text x="539.38" y="1211.3" class="sans" font-size="17.5" fill="#1a1a1a" stroke="#1a1a1a" stroke-width="0.35" text-anchor="middle" textLength="61" lengthAdjust="spacingAndGlyphs">490700</text>
<text x="935.86" y="30.3" class="sans" font-size="17.5" fill="#1a1a1a" stroke="#1a1a1a" stroke-width="0.35" text-anchor="middle" textLength="61" lengthAdjust="spacingAndGlyphs">493500</text>
<text x="937.86" y="1211.3" class="sans" font-size="17.5" fill="#1a1a1a" stroke="#1a1a1a" stroke-width="0.35" text-anchor="middle" textLength="61" lengthAdjust="spacingAndGlyphs">493500</text>
<text transform="translate(42.5 314.6) rotate(-90)" y="6.3" class="sans" font-size="17.5" fill="#1a1a1a" stroke="#1a1a1a" stroke-width="0.35" text-anchor="middle" textLength="71" lengthAdjust="spacingAndGlyphs">2988300</text>
<text transform="translate(1208.5 315.6) rotate(90)" y="6.3" class="sans" font-size="17.5" fill="#1a1a1a" stroke="#1a1a1a" stroke-width="0.35" text-anchor="middle" textLength="71" lengthAdjust="spacingAndGlyphs">2988300</text>
<text transform="translate(42.5 713) rotate(-90)" y="6.3" class="sans" font-size="17.5" fill="#1a1a1a" stroke="#1a1a1a" stroke-width="0.35" text-anchor="middle" textLength="71" lengthAdjust="spacingAndGlyphs">2985500</text>
<text transform="translate(1208.5 714) rotate(90)" y="6.3" class="sans" font-size="17.5" fill="#1a1a1a" stroke="#1a1a1a" stroke-width="0.35" text-anchor="middle" textLength="71" lengthAdjust="spacingAndGlyphs">2985500</text>
<text transform="translate(42.5 1111.4) rotate(-90)" y="6.3" class="sans" font-size="17.5" fill="#1a1a1a" stroke="#1a1a1a" stroke-width="0.35" text-anchor="middle" textLength="71" lengthAdjust="spacingAndGlyphs">2982700</text>
<text transform="translate(1208.5 1112.4) rotate(90)" y="6.3" class="sans" font-size="17.5" fill="#1a1a1a" stroke="#1a1a1a" stroke-width="0.35" text-anchor="middle" textLength="71" lengthAdjust="spacingAndGlyphs">2982700</text>
<rect x="120" y="141" width="139" height="145" fill="#fff"/>
<polygon points="220.34,239.34 203.28,230.85 203.73,222.73" fill="#fff" stroke="#a8a8a8" stroke-width="0.9"/>
<polygon points="220.34,239.34 211.85,222.28 203.73,222.73" fill="#000"/>
<polygon points="161.66,239.34 170.15,222.28 178.27,222.73" fill="#fff" stroke="#a8a8a8" stroke-width="0.9"/>
<polygon points="161.66,239.34 178.72,230.85 178.27,222.73" fill="#000"/>
<polygon points="161.66,180.66 178.72,189.15 178.27,197.27" fill="#fff" stroke="#a8a8a8" stroke-width="0.9"/>
<polygon points="161.66,180.66 170.15,197.72 178.27,197.27" fill="#000"/>
<polygon points="220.34,180.66 211.85,197.72 203.73,197.27" fill="#fff" stroke="#a8a8a8" stroke-width="0.9"/>
<polygon points="220.34,180.66 203.28,189.15 203.73,197.27" fill="#000"/>
<polygon points="191,210 191,161.4 205.42,195.58" fill="#fff" stroke="#b0b0b0" stroke-width="1.3"/>
<polygon points="191,210 191,161.4 176.58,195.58" fill="#000"/>
<polygon points="191,210 239.6,210 205.42,224.42" fill="#fff" stroke="#b0b0b0" stroke-width="1.3"/>
<polygon points="191,210 239.6,210 205.42,195.58" fill="#000"/>
<polygon points="191,210 191,258.6 176.58,224.42" fill="#fff" stroke="#b0b0b0" stroke-width="1.3"/>
<polygon points="191,210 191,258.6 205.42,224.42" fill="#000"/>
<polygon points="191,210 142.4,210 176.58,195.58" fill="#fff" stroke="#b0b0b0" stroke-width="1.3"/>
<polygon points="191,210 142.4,210 176.58,224.42" fill="#000"/>
<text x="191.3" y="155.6" class="serif" font-size="15.5" font-weight="bold" fill="#1c1c1c" text-anchor="middle">N</text>
<text x="191" y="276.2" class="serif" font-size="15.5" font-weight="bold" fill="#1c1c1c" text-anchor="middle">S</text>
<text x="131" y="215.4" class="serif" font-size="15.5" font-weight="bold" fill="#1c1c1c" text-anchor="middle" textLength="13" lengthAdjust="spacingAndGlyphs">W</text>
<text x="252.2" y="215.6" class="serif" font-size="15.5" font-weight="bold" fill="#1c1c1c" text-anchor="middle">E</text>
<path d="M198 277h9M211 277h3M219 277h3" stroke="#bbb" stroke-width="1" fill="none"/>
<text class="serif" x="849" y="206.4" font-size="46.5" fill="#000" textLength="278" lengthAdjust="spacingAndGlyphs">Trace envelope</text>
<circle cx="924" cy="436" r="5.8" fill="none" stroke="#1c2a2a" stroke-width="2.5"/>
<path d="M930.5 436L934.5 436M928.6 440.6L931.42 443.42M924 442.5L924 446.5M919.4 440.6L916.58 443.42M917.5 436L913.5 436M919.4 431.4L916.58 428.58M924 429.5L924 425.5M928.6 431.4L931.42 428.58" stroke="#1c2a2a" stroke-width="2.5" fill="none"/>
<text class="sans" x="965" y="443.5" font-size="18" fill="#0c0c0c" stroke="#0c0c0c" stroke-width="0.45" fill-opacity="0.92" stroke-opacity="0.8" textLength="89" lengthAdjust="spacingAndGlyphs">Sawan-08</text>
<circle cx="610" cy="512" r="5.8" fill="none" stroke="#1c2a2a" stroke-width="2.5"/>
<path d="M616.5 512L620.5 512M614.6 516.6L617.42 519.42M610 518.5L610 522.5M605.4 516.6L602.58 519.42M603.5 512L599.5 512M605.4 507.4L602.58 504.58M610 505.5L610 501.5M614.6 507.4L617.42 504.58" stroke="#1c2a2a" stroke-width="2.5" fill="none"/>
<text class="sans" x="651" y="519" font-size="18" fill="#0c0c0c" stroke="#0c0c0c" stroke-width="0.45" fill-opacity="0.92" stroke-opacity="0.8" textLength="89" lengthAdjust="spacingAndGlyphs">Sawan-14</text>
<circle cx="781.3" cy="590.7" r="5.8" fill="none" stroke="#1c2a2a" stroke-width="2.5"/>
<path d="M787.8 590.7L791.8 590.7M785.9 595.3L788.72 598.12M781.3 597.2L781.3 601.2M776.7 595.3L773.88 598.12M774.8 590.7L770.8 590.7M776.7 586.1L773.88 583.28M781.3 584.2L781.3 580.2M785.9 586.1L788.72 583.28" stroke="#1c2a2a" stroke-width="2.5" fill="none"/>
<text class="sans" x="822.6" y="598" font-size="18" fill="#0c0c0c" stroke="#0c0c0c" stroke-width="0.45" fill-opacity="0.92" stroke-opacity="0.8" textLength="89" lengthAdjust="spacingAndGlyphs">Sawan-07</text>
<circle cx="550.5" cy="708.8" r="5.8" fill="none" stroke="#1c2a2a" stroke-width="2.5"/>
<path d="M557 708.8L561 708.8M555.1 713.4L557.92 716.22M550.5 715.3L550.5 719.3M545.9 713.4L543.08 716.22M544 708.8L540 708.8M545.9 704.2L543.08 701.38M550.5 702.3L550.5 698.3M555.1 704.2L557.92 701.38" stroke="#1c2a2a" stroke-width="2.5" fill="none"/>
<text class="sans" x="591" y="716.5" font-size="18" fill="#0c0c0c" stroke="#0c0c0c" stroke-width="0.45" fill-opacity="0.92" stroke-opacity="0.8" textLength="89" lengthAdjust="spacingAndGlyphs">Sawan-01</text>
<path d="M452.6 905L500 877" stroke="#000" stroke-width="3.2" fill="none"/>
<polygon points="508.5,872 491,871.5 499.5,886.5" fill="#000"/>
<text class="sans" x="306" y="934" font-size="28.5" font-weight="bold" fill="#000" textLength="356" lengthAdjust="spacingAndGlyphs">Predicted sand Channel</text>
<rect x="93.5" y="1038.5" width="285.8" height="24.5" fill="#fff" stroke="#3c3c3c" stroke-width="2" rx="1.5"/>
<rect x="94" y="1039" width="70.8" height="23.5" fill="#000"/>
<rect x="236.4" y="1039" width="69.9" height="23.5" fill="#000"/>
<text x="96" y="1093.5" class="sans" font-size="17.5" fill="#1a1a1a" stroke="#1a1a1a" stroke-width="0.35" text-anchor="middle">0</text>
<text x="235.7" y="1093.5" class="sans" font-size="17.5" fill="#1a1a1a" stroke="#1a1a1a" stroke-width="0.35" text-anchor="middle" textLength="69" lengthAdjust="spacingAndGlyphs">1:54107</text>
<text x="377.6" y="1093.5" class="sans" font-size="17.5" fill="#1a1a1a" stroke="#1a1a1a" stroke-width="0.35" text-anchor="middle" textLength="40" lengthAdjust="spacingAndGlyphs">2000</text>
<text x="425.2" y="1093.5" class="sans" font-size="17.5" fill="#1a1a1a" stroke="#1a1a1a" stroke-width="0.35" text-anchor="middle">m</text>
<text class="serif" x="91" y="1154.6" font-size="50" fill="#000">a)</text>
</g>
<g id="colorbar">
<rect x="1236" y="7" width="68" height="1233" fill="url(#cbg)"/>
<rect x="1241.2" y="105.7" width="49.3" height="20.6" fill="#fefefe"/>
<rect x="1241.2" y="125.9" width="49.3" height="20.6" fill="#fcfcfc"/>
<rect x="1241.2" y="146.09" width="49.3" height="20.6" fill="#fafafa"/>
<rect x="1241.2" y="166.29" width="49.3" height="20.6" fill="#f4f4f4"/>
<rect x="1241.2" y="186.48" width="49.3" height="20.6" fill="#ededed"/>
<rect x="1241.2" y="206.68" width="49.3" height="20.6" fill="#e7e7e7"/>
<rect x="1241.2" y="226.88" width="49.3" height="20.6" fill="#e0e0e0"/>
<rect x="1241.2" y="247.07" width="49.3" height="20.6" fill="#d9d9d9"/>
<rect x="1241.2" y="267.27" width="49.3" height="20.6" fill="#d3d3d3"/>
<rect x="1241.2" y="287.46" width="49.3" height="20.6" fill="#cccccc"/>
<rect x="1241.2" y="307.66" width="49.3" height="20.6" fill="#c7c7c7"/>
<rect x="1241.2" y="327.86" width="49.3" height="20.6" fill="#c3c3c3"/>
<rect x="1241.2" y="348.05" width="49.3" height="20.6" fill="#bebebe"/>
<rect x="1241.2" y="368.25" width="49.3" height="20.6" fill="#bababa"/>
<rect x="1241.2" y="388.44" width="49.3" height="20.6" fill="#adc5bb"/>
<rect x="1241.2" y="408.64" width="49.3" height="20.6" fill="#a0d2c0"/>
<rect x="1241.2" y="428.84" width="49.3" height="20.6" fill="#93e6cb"/>
<rect x="1241.2" y="449.03" width="49.3" height="20.6" fill="#88f5d1"/>
<rect x="1241.2" y="469.23" width="49.3" height="20.6" fill="#80ffd4"/>
<rect x="1241.2" y="489.42" width="49.3" height="20.6" fill="#78eecc"/>
<rect x="1241.2" y="509.62" width="49.3" height="20.6" fill="#70dcc4"/>
<rect x="1241.2" y="529.82" width="49.3" height="20.6" fill="#6ccdbe"/>
<rect x="1241.2" y="550.01" width="49.3" height="20.6" fill="#68beb8"/>
<rect x="1241.2" y="570.21" width="49.3" height="20.6" fill="#64afb4"/>
<rect x="1241.2" y="590.4" width="49.3" height="20.6" fill="#60a0b0"/>
<rect x="1241.2" y="610.6" width="49.3" height="20.6" fill="#5c93ac"/>
<rect x="1241.2" y="630.8" width="49.3" height="20.6" fill="#5886a8"/>
<rect x="1241.2" y="650.99" width="49.3" height="20.6" fill="#5675a3"/>
<rect x="1241.2" y="671.19" width="49.3" height="20.6" fill="#54649e"/>
<rect x="1241.2" y="691.38" width="49.3" height="20.6" fill="#515499"/>
<rect x="1241.2" y="711.58" width="49.3" height="20.6" fill="#4f4793"/>
<rect x="1241.2" y="731.78" width="49.3" height="20.6" fill="#4c3e8e"/>
<rect x="1241.2" y="751.97" width="49.3" height="20.6" fill="#706894"/>
<rect x="1241.2" y="772.17" width="49.3" height="20.6" fill="#9890a0"/>
<rect x="1241.2" y="792.36" width="49.3" height="20.6" fill="#bab2a0"/>
<rect x="1241.2" y="812.56" width="49.3" height="20.6" fill="#e0d8a0"/>
<rect x="1241.2" y="832.76" width="49.3" height="20.6" fill="#f0e29e"/>
<rect x="1241.2" y="852.95" width="49.3" height="20.6" fill="#f4d68f"/>
<rect x="1241.2" y="873.15" width="49.3" height="20.6" fill="#f6ca80"/>
<rect x="1241.2" y="893.34" width="49.3" height="20.6" fill="#f8bf71"/>
<rect x="1241.2" y="913.54" width="49.3" height="20.6" fill="#f8b565"/>
<rect x="1241.2" y="933.74" width="49.3" height="20.6" fill="#f9ac5a"/>
<rect x="1241.2" y="953.93" width="49.3" height="20.6" fill="#faa250"/>
<rect x="1241.2" y="974.13" width="49.3" height="20.6" fill="#fb9a43"/>
<rect x="1241.2" y="994.32" width="49.3" height="20.6" fill="#fc9236"/>
<rect x="1241.2" y="1014.52" width="49.3" height="20.6" fill="#fc8a2a"/>
<rect x="1241.2" y="1034.72" width="49.3" height="20.6" fill="#fd831e"/>
<rect x="1241.2" y="1054.91" width="49.3" height="20.6" fill="#fe7c12"/>
<rect x="1241.2" y="1075.11" width="49.3" height="20.6" fill="#fe760b"/>
<rect x="1241.2" y="1095.3" width="49.3" height="20.6" fill="#ff7104"/>
<text class="serif" x="1241" y="91" font-size="28" fill="#000" textLength="54" lengthAdjust="spacingAndGlyphs">High</text>
<text class="serif" x="1241.5" y="1147" font-size="28" fill="#000" textLength="49" lengthAdjust="spacingAndGlyphs">Low</text>
</g>
<g id="panel-b">
<rect x="1304" y="7" width="689" height="617" fill="#fff"/>
<path d="M1304.6 7V623.5" stroke="#555" stroke-width="1.4" fill="none"/>
<rect x="1369.5" y="69.5" width="618.7" height="554.1" fill="#fc9236"/>
<g filter="url(#secf)"><g filter="url(#secblur)">
<rect x="1339.5" y="39.5" width="678.7" height="614.1" fill="#212121"/>
<polygon points="1349.5,84 2008.2,84 2008.2,92 1349.5,92" fill="#2e2e2e"/>
<polygon points="1349.5,118 2008.2,118 2008.2,128 1349.5,128" fill="#2b2b2b"/>
<polygon points="1349.5,176 2008.2,176 2008.2,186 1349.5,186" fill="#2e2e2e"/>
<polygon points="1349.5,196 2008.2,196 2008.2,210 1349.5,210" fill="#303030"/>
<polygon points="1349.5,272 2008.2,272 2008.2,284 1349.5,284" fill="#2e2e2e"/>
<polygon points="1349.5,300 2008.2,300 2008.2,312 1349.5,312" fill="#2b2b2b"/>
<polygon points="1349.5,340 2008.2,340 2008.2,352 1349.5,352" fill="#2e2e2e"/>
<polygon points="1349.5,505 2008.2,505 2008.2,520 1349.5,520" fill="#2e2e2e"/>
<polygon points="1349.5,536 2008.2,536 2008.2,548 1349.5,548" fill="#303030"/>
<polygon points="1349.5,556 2008.2,556 2008.2,566 1349.5,566" fill="#2e2e2e"/>
<polygon points="1349.5,604 2008.2,604 2008.2,614 1349.5,614" fill="#2e2e2e"/>
<polygon points="1349.5,96 2008.2,96 2008.2,114 1349.5,114" fill="#131313"/>
<polygon points="1349.5,214 2008.2,214 2008.2,236 1349.5,236" fill="#131313"/>
<polygon points="1349.5,318 2008.2,318 2008.2,336 1349.5,336" fill="#141414"/>
<polygon points="1349.5,386 2008.2,386 2008.2,420 1349.5,420" fill="#121212"/>
<polygon points="1349.5,492 2008.2,492 2008.2,503 1349.5,503" fill="#141414"/>
<polygon points="1349.5,522 2008.2,522 2008.2,534 1349.5,534" fill="#141414"/>
<polygon points="1349.5,616 2008.2,616 2008.2,630 1349.5,630" fill="#141414"/>
<polygon points="1372.36,140.62 1380.4,139.04 1388.45,141.76 1396.5,137.59 1403.6,140.13 1410.7,138.62 1417.8,136.22 1424.9,138.67 1432,135.24 1439.09,135.64 1446.19,131.19 1453.29,131.14 1460.39,133.1 1467.49,135.49 1474.59,130.82 1481.69,131.1 1488.79,133.33 1495.89,135.02 1502.99,132.3 1510.09,132.33 1517.19,137.22 1524.29,132.46 1531.39,140.13 1538.49,138.98 1545.59,138.53 1552.69,138.83 1559.79,140.52 1566.89,142.11 1573.99,136.39 1581.09,137.3 1588.19,138.55 1595.29,137.74 1602.39,139.74 1609.49,137.53 1616.59,137.99 1623.69,139.39 1630.79,142.9 1637.89,138.09 1644.99,134.17 1652.09,135.37 1659.19,133.99 1666.29,132.48 1673.39,135.11 1680.49,135.03 1687.59,132.66 1694.69,135.3 1701.79,135.52 1710.07,140.12 1718.35,141.56 1726.63,141.1 1733.73,142.45 1740.83,133.86 1747.93,132.7 1754.44,135.46 1760.95,132.19 1767.46,134.93 1773.97,132.65 1780.47,137.26 1786.98,138.47 1794.08,137.1 1801.18,138.89 1808.28,135.16 1815.38,137.46 1822.48,136.67 1829.58,135.63 1836.68,133.89 1843.78,135.4 1850.88,136.96 1857.98,134.84 1865.08,136.94 1872.18,133.97 1879.28,136.64 1886.38,134.88 1893.48,135.67 1900.58,133.72 1907.68,129.44 1914.78,129.23 1921.88,130.19 1928.98,125.21 1936.08,129.43 1943.18,128.98 1953.83,137.88 1960.57,137.65 1967.32,142.32 1974.06,138.38 1980.81,139.28 1987.55,142 1987.55,168.97 1980.81,171.69 1974.06,169.2 1967.32,170.15 1960.57,172.81 1953.83,172.01 1943.18,168.94 1936.08,166.64 1928.98,168.35 1921.88,168.11 1914.78,170.55 1907.68,171.67 1900.58,172.52 1893.48,170.57 1886.38,168.65 1879.28,171.78 1872.18,170.38 1865.08,172.84 1857.98,175.51 1850.88,171.04 1843.78,171.87 1836.68,175.33 1829.58,172.67 1822.48,173.2 1815.38,171.58 1808.28,171.07 1801.18,172.62 1794.08,172.11 1786.98,174.3 1779.88,173.58 1772.78,169.98 1765.68,171.17 1758.58,169.85 1751.48,168.13 1744.38,166.38 1737.28,167.45 1726.63,161.64 1718.35,156.48 1710.07,157.21 1701.79,154.96 1694.69,155.03 1687.59,154.1 1680.49,154.18 1673.39,155.44 1666.29,155.08 1659.19,155.85 1652.09,155.68 1644.99,156.18 1637.89,158.32 1630.79,154.97 1623.69,156.67 1616.59,156.88 1609.49,159.13 1602.39,158.8 1595.29,157.62 1588.19,157.51 1581.09,152.59 1573.99,156.4 1566.89,156.81 1559.79,157.02 1552.69,159.78 1545.59,162.98 1538.49,162.95 1531.39,162.33 1524.29,162.93 1517.19,160.16 1510.09,160.73 1502.99,161.64 1495.89,161.48 1488.79,160.58 1481.69,160.93 1474.59,161.01 1467.49,161.06 1460.39,165.25 1453.29,165.06 1446.19,162.63 1439.09,165.04 1432,166.49 1424.9,169.26 1417.8,168.89 1410.7,169.07 1403.6,167.27 1396.5,166.63 1388.45,164.09 1380.4,167.31 1372.36,164.21" fill="#676767"/>
<polygon points="1378.75,149.57 1385.4,148.93 1392.06,148.58 1398.71,148.45 1405.37,147.99 1412.03,145.99 1418.68,146.85 1425.34,146.1 1432,144.76 1440.87,142.27 1449.74,140.68 1456.4,140.34 1463.06,141.61 1469.71,142.28 1476.37,140.21 1483.02,141.68 1489.68,141.6 1496.34,141.21 1502.99,138.85 1510.09,139.58 1517.19,140.85 1524.29,141.98 1531.39,143.25 1538.49,146.87 1545.59,149.98 1552.69,148.71 1559.79,146.36 1566.89,145.91 1573.99,145.37 1581.09,143.11 1588.19,145.44 1595.29,146.61 1602.39,146.44 1609.49,146.61 1615.88,144.79 1622.27,142.88 1628.66,144.19 1635.05,141.72 1641.44,142.53 1647.83,142.71 1654.22,140.24 1660.61,139.83 1667,141.34 1673.39,140.13 1680.49,138.99 1687.59,139.67 1694.69,140.58 1701.79,144.08 1708.89,144.56 1715.99,143.05 1724.86,147.24 1733.73,149.56 1742.61,144.86 1751.48,140.22 1758.58,141.49 1765.68,140.58 1772.78,140.73 1779.88,144.7 1786.98,144.12 1794.08,143.33 1801.18,144.42 1808.28,142.29 1815.38,143.49 1822.48,142.98 1829.58,140.44 1836.68,140.23 1843.78,140.02 1850.88,139.73 1857.98,140.86 1865.08,139.59 1872.18,140.06 1879.28,138.94 1886.38,141.6 1893.48,139.52 1900.58,139.66 1907.68,139.87 1914.78,140.77 1921.88,138.81 1928.98,140.34 1936.08,138.63 1943.18,143 1950.28,147.23 1957.73,145.58 1965.19,147.21 1972.64,146.44 1980.1,145.95 1987.55,148.38 1987.55,162.58 1980.1,163.65 1972.64,165.17 1965.19,162.72 1957.73,163.4 1950.28,165.67 1943.18,165.29 1936.08,162.84 1928.98,162.04 1921.88,162.78 1914.78,164.82 1907.68,162.43 1900.58,163.47 1893.48,163.13 1886.38,166.62 1879.28,166.37 1872.18,167.48 1865.08,164.61 1857.98,166.61 1850.88,167.41 1843.78,166.78 1836.68,165.49 1829.58,166.81 1822.48,167.04 1815.38,164.96 1808.28,167.28 1801.18,165.67 1794.08,165.05 1786.98,165.39 1779.88,165.02 1772.78,163.73 1765.68,161.77 1758.58,163.16 1751.48,162.73 1742.61,158.1 1733.73,154.95 1724.86,155.49 1715.99,151.47 1708.89,153.89 1701.79,153.35 1694.69,150.49 1687.59,152.09 1680.49,152.05 1673.39,149.82 1667,152.88 1660.61,152.91 1654.22,152.93 1647.83,151.24 1641.44,152.26 1635.05,151.52 1628.66,152.69 1622.27,151.41 1615.88,151.32 1609.49,153.67 1602.39,153.61 1595.29,151.83 1588.19,150.34 1581.09,152.33 1573.99,151.67 1566.89,151.93 1559.79,153.68 1552.69,152.92 1545.59,154.01 1538.49,155.14 1531.39,157.41 1524.29,156.59 1517.19,156.39 1510.09,156.59 1502.99,155.82 1496.34,157.75 1489.68,157.47 1483.02,157.03 1476.37,157.11 1469.71,158.31 1463.06,156.82 1456.4,156.99 1449.74,158.36 1440.87,158.52 1432,162.71 1425.34,161.8 1418.68,161.58 1412.03,160.81 1405.37,161.54 1398.71,162.05 1392.06,161.07 1385.4,159.91 1378.75,162.05" fill="#9e9e9e"/>
<polygon points="1769.23,148.38 1815.38,146.96 1857.98,148.38 1872.18,153.35 1857.98,158.32 1815.38,159.74 1772.78,157.61" fill="#c2c2c2"/>
<polygon points="1889.93,146.96 1928.98,145.54 1939.63,153.35 1928.98,159.03 1893.48,158.32" fill="#c2c2c2"/>
<polygon points="1904.13,149.09 1925.43,148.38 1928.98,154.77 1907.68,156.19" fill="#f7f7f7"/>
<polygon points="1474.59,144.83 1502.99,143.41 1510.09,149.09 1481.69,151.22" fill="#c2c2c2"/>
<ellipse cx="1392.95" cy="176.43" rx="10.65" ry="4.97" fill="#757575"/>
<ellipse cx="1421.35" cy="178.56" rx="3.55" ry="3.19" fill="#6b6b6b"/>
<ellipse cx="1433.77" cy="177.49" rx="3.19" ry="3.55" fill="#6b6b6b"/>
<ellipse cx="1456.84" cy="175.72" rx="9.94" ry="4.61" fill="#757575"/>
<ellipse cx="1488.79" cy="175.72" rx="9.94" ry="3.9" fill="#6e6e6e"/>
<ellipse cx="1513.64" cy="175.72" rx="4.26" ry="3.55" fill="#6b6b6b"/>
<ellipse cx="1522.52" cy="172.17" rx="3.55" ry="4.97" fill="#6b6b6b"/>
<ellipse cx="1537.43" cy="173.94" rx="3.55" ry="4.61" fill="#6b6b6b"/>
<ellipse cx="1566.89" cy="172.88" rx="13.49" ry="4.26" fill="#6e6e6e"/>
<ellipse cx="1597.06" cy="173.23" rx="2.84" ry="2.84" fill="#6b6b6b"/>
<ellipse cx="1612.33" cy="172.52" rx="3.19" ry="3.55" fill="#6b6b6b"/>
<ellipse cx="1626.53" cy="172.52" rx="4.26" ry="4.26" fill="#6b6b6b"/>
<ellipse cx="1646.76" cy="174.65" rx="6.39" ry="3.19" fill="#666666"/>
<ellipse cx="1662.74" cy="173.23" rx="4.97" ry="4.26" fill="#6b6b6b"/>
<ellipse cx="1385.85" cy="197.02" rx="2.48" ry="3.55" fill="#6b6b6b"/>
<ellipse cx="1407.86" cy="207.67" rx="2.48" ry="5.68" fill="#6b6b6b"/>
<ellipse cx="1428.45" cy="205.89" rx="3.19" ry="3.55" fill="#6b6b6b"/>
<ellipse cx="1441.93" cy="204.83" rx="5.32" ry="4.97" fill="#6b6b6b"/>
<ellipse cx="1456.84" cy="204.12" rx="2.13" ry="2.84" fill="#6b6b6b"/>
<ellipse cx="1487.02" cy="202.34" rx="3.19" ry="3.55" fill="#6b6b6b"/>
<ellipse cx="1511.87" cy="203.05" rx="1.77" ry="2.48" fill="#6b6b6b"/>
<ellipse cx="1525" cy="203.05" rx="2.48" ry="2.84" fill="#6b6b6b"/>
<ellipse cx="1729.47" cy="127.8" rx="3.55" ry="3.19" fill="#6b6b6b"/>
<ellipse cx="1920.46" cy="191.69" rx="2.84" ry="5.68" fill="#6b6b6b"/>
<ellipse cx="1933.24" cy="189.92" rx="2.13" ry="3.55" fill="#6b6b6b"/>
<ellipse cx="1942.47" cy="190.98" rx="1.77" ry="4.26" fill="#6b6b6b"/>
<ellipse cx="1954.54" cy="194.53" rx="1.77" ry="2.84" fill="#6b6b6b"/>
<ellipse cx="1984" cy="191.69" rx="3.19" ry="4.61" fill="#6b6b6b"/>
<ellipse cx="1805.44" cy="195.24" rx="1.77" ry="3.19" fill="#6b6b6b"/>
<ellipse cx="1861.53" cy="222.93" rx="2.13" ry="3.55" fill="#6b6b6b"/>
<ellipse cx="1833.13" cy="191.69" rx="2.84" ry="2.13" fill="#6b6b6b"/>
<polygon points="1804.02,258.43 1829.58,257.01 1852.66,259.14 1852.66,266.95 1836.68,271.21 1822.48,269.79 1804.73,274.05" fill="#6e6e6e"/>
<polygon points="1920.1,257.01 1942.47,256.3 1942.47,266.95 1928.98,265.53" fill="#6b6b6b"/>
<ellipse cx="1972.29" cy="266.24" rx="4.97" ry="3.55" fill="#6b6b6b"/>
<ellipse cx="1872.18" cy="261.27" rx="4.97" ry="2.48" fill="#6b6b6b"/>
<ellipse cx="1889.93" cy="261.27" rx="2.84" ry="2.84" fill="#6b6b6b"/>
<ellipse cx="1752.19" cy="259.14" rx="2.84" ry="3.55" fill="#6b6b6b"/>
<ellipse cx="1730.18" cy="257.72" rx="3.19" ry="2.84" fill="#6b6b6b"/>
<ellipse cx="1542.75" cy="261.27" rx="4.97" ry="2.48" fill="#6b6b6b"/>
<ellipse cx="1786.98" cy="259.14" rx="2.84" ry="2.84" fill="#6b6b6b"/>
<ellipse cx="1379.46" cy="285.76" rx="5.32" ry="4.97" fill="#6b6b6b"/>
<ellipse cx="1581.09" cy="283.99" rx="2.13" ry="3.19" fill="#6b6b6b"/>
<ellipse cx="1534.94" cy="303.87" rx="4.26" ry="4.61" fill="#6b6b6b"/>
<ellipse cx="1543.82" cy="291.09" rx="1.77" ry="2.84" fill="#6b6b6b"/>
<ellipse cx="1833.13" cy="309.55" rx="2.48" ry="5.68" fill="#6b6b6b"/>
<ellipse cx="1820.71" cy="305.29" rx="1.77" ry="2.84" fill="#6b6b6b"/>
<ellipse cx="1914.78" cy="306" rx="2.13" ry="3.19" fill="#6b6b6b"/>
<ellipse cx="1985.07" cy="302.45" rx="2.13" ry="2.84" fill="#6b6b6b"/>
<polygon points="1373.78,432.56 1383.01,419.38 1389.87,418.83 1396.73,424.86 1403.6,422.01 1410.7,417.62 1417.8,425.34 1424.9,421.43 1432,422.2 1439.09,417.2 1446.19,427.01 1453.29,420.93 1460.39,430.62 1467.49,428.33 1474.59,428.97 1481.69,430.91 1488.79,434.45 1495.89,427.72 1502.99,426.17 1510.09,428.35 1517.19,423.7 1524.29,420.65 1531.39,419.39 1538.49,418.64 1545.59,420.5 1552.69,423.25 1559.79,424.84 1566.89,431.01 1573.99,426.88 1581.09,429.5 1588.19,426.83 1595.29,429.04 1603.57,424.59 1611.86,425.72 1620.14,422.2 1628.42,432.64 1636.7,434.15 1644.99,433.87 1651.38,437.13 1657.77,442.13 1664.16,434.32 1670.55,441.83 1676.94,438.41 1685.22,437.14 1693.5,438.62 1701.79,432.34 1708.89,433.12 1715.99,434.56 1723.08,437.13 1730.18,430.42 1736.57,434.29 1742.96,432.05 1749.35,430.35 1755.74,427.06 1762.13,425.5 1770.42,423.06 1778.7,424.28 1786.98,424.17 1794.08,431.54 1801.18,427.43 1808.28,427.22 1815.38,427.14 1822.48,435.02 1829.58,435.67 1836.68,434.03 1843.78,430.53 1850.88,430.49 1857.98,431.35 1865.08,432.76 1872.18,429.53 1879.28,432.16 1886.38,430.1 1893.48,436.81 1900.58,436.68 1907.68,431.74 1914.78,428.02 1921.88,434.48 1928.98,427.25 1936.08,429.49 1943.18,427.74 1950.28,433.17 1957.38,435.76 1964.48,437.69 1972.17,435.64 1979.86,439.6 1987.55,442 1987.55,477.49 1975.13,485.33 1966.84,481.4 1958.56,475.7 1950.28,473.9 1943.18,472.82 1936.08,471.5 1928.98,467.75 1921.88,466.77 1914.78,466.82 1907.68,470.72 1900.58,469.39 1893.48,472.91 1886.38,470.49 1879.28,470.52 1872.18,470.78 1865.08,481.85 1857.98,489.14 1850.88,491.16 1843.78,491.7 1836.68,491.45 1829.58,491.9 1821.3,491.43 1813.02,493.33 1804.73,490.63 1794.08,468.76 1787.69,471.26 1781.3,467.44 1774.91,465.37 1768.52,465.65 1762.13,467.9 1753.85,461.72 1745.57,463.61 1737.28,460.93 1730.18,461.43 1723.08,463.71 1715.99,464.74 1708.89,460.37 1701.79,464.72 1694.69,467.18 1687.59,468.08 1680.49,469.33 1673.39,469.12 1666.29,471.13 1659.19,466.7 1652.09,467.27 1644.99,464.75 1637.89,463.03 1630.79,463.24 1623.69,466.48 1616.59,466.7 1609.49,468.32 1602.39,466.64 1595.29,468.47 1588.19,468.47 1581.09,468.81 1573.99,466.84 1566.89,467.1 1559.79,464.79 1552.69,469.21 1545.59,468.82 1538.49,468.26 1531.39,470.07 1524.29,469.83 1517.19,464.89 1510.09,468.6 1502.99,469 1495.89,465.21 1488.79,470.43 1481.69,466.1 1474.59,466.39 1467.49,469.63 1460.39,468.71 1453.29,468.45 1446.19,469.17 1439.09,467.87 1432,468.35 1424.9,465.53 1417.8,465.42 1410.7,463.05 1403.6,462.6 1396.5,464.32 1388.92,459.74 1381.35,458.25 1373.78,453.99" fill="#676767"/>
<polygon points="1376.97,440.63 1383.48,439.63 1389.99,442.62 1396.5,440.39 1403.6,443.44 1410.7,443.58 1417.8,440.6 1424.9,442.45 1432,444.02 1439.09,445.02 1446.19,443.65 1453.29,443.48 1460.39,443.75 1467.49,446.83 1474.59,444.7 1480.98,445.94 1487.37,444.31 1493.76,445.59 1500.15,447.05 1506.54,444.06 1512.93,446.43 1519.32,445.26 1525.71,446.53 1532.1,445.81 1538.49,444.06 1545.59,446 1552.69,444.11 1559.79,442.05 1566.89,441.55 1573.99,442.85 1581.09,443.28 1588.19,443.32 1595.29,443.31 1602.39,444.6 1609.49,445.07 1616.59,447.5 1623.69,445.09 1630.79,448.32 1637.89,449.2 1644.99,447.21 1652.09,450.61 1659.19,450.38 1666.29,451.59 1673.39,449.95 1681.67,448.82 1689.95,447.47 1698.24,448.2 1705.34,445.68 1712.44,443.81 1719.53,442.98 1726.63,441.37 1734.92,440.33 1743.2,440.29 1751.48,442.65 1758.58,441.41 1765.68,444.43 1772.78,442.7 1779.88,443.47 1786.98,445.05 1794.08,444.27 1801.18,445.27 1808.28,447.46 1815.38,447.32 1822.48,447.18 1829.58,446.66 1836.68,447.78 1843.78,448 1850.88,446.2 1857.98,446.4 1865.08,443.62 1872.18,445.63 1879.28,444.23 1886.38,444.9 1893.48,444.11 1900.58,442.63 1907.68,441.59 1914.78,444.5 1921.88,441.46 1928.98,442.48 1936.08,441.82 1943.18,441.45 1950.28,444.44 1957.38,446.7 1964.48,445.58 1972.17,448.64 1979.86,449.04 1987.55,451.93 1987.55,468.97 1979.86,469.52 1972.17,470.15 1964.48,467.32 1957.38,465.22 1950.28,462.56 1943.18,463.65 1936.08,462.25 1928.98,463.15 1921.88,464.18 1914.78,464.14 1907.68,462.41 1900.58,462.79 1893.48,465.49 1886.38,465.63 1879.28,464.4 1872.18,464.28 1865.08,465.43 1857.98,467.29 1850.88,468.87 1843.78,466.34 1836.68,468.57 1829.58,465.29 1822.48,467.35 1815.38,466.83 1808.28,468.02 1801.18,467.4 1794.08,466.65 1786.98,466.52 1779.88,464.28 1772.78,462.47 1765.68,459.76 1758.58,458.43 1751.48,457.89 1743.2,459.79 1734.92,458.11 1726.63,456.8 1719.53,458.12 1712.44,456.73 1705.34,455.95 1698.24,459.33 1689.95,460.74 1681.67,464.44 1673.39,465.54 1666.29,461.76 1659.19,460.83 1652.09,463.57 1644.99,462.58 1637.89,462.89 1630.79,460.58 1623.69,460.24 1616.59,459.45 1609.49,459.41 1602.39,459.32 1595.29,462.21 1588.19,461.36 1581.09,460.97 1573.99,459.5 1566.89,463.37 1559.79,460.71 1552.69,460.08 1545.59,461.54 1538.49,461.99 1532.1,462.47 1525.71,461.86 1519.32,461.72 1512.93,463.01 1506.54,463.45 1500.15,461.96 1493.76,460.49 1487.37,460.27 1480.98,459.49 1474.59,460.42 1467.49,459.59 1460.39,460.26 1453.29,460.27 1446.19,461.83 1439.09,464.39 1432,464.24 1424.9,460.89 1417.8,461.65 1410.7,462.96 1403.6,459.56 1396.5,458.94 1389.99,455.42 1383.48,452.83 1376.97,449.98" fill="#949494"/>
<polygon points="1822.48,452.64 1893.48,450.51 1950.28,449.09 1985.78,456.19 1985.78,464 1950.28,459.74 1893.48,461.16 1822.48,463.29" fill="#9e9e9e"/>
<polygon points="1808.28,466.84 1850.88,468.97 1857.98,484.59 1822.48,488.14 1806.51,481.04" fill="#808080"/>
<polygon points="1534.94,477.49 1559.79,475.36 1591.74,476.78 1609.49,481.04 1605.94,491.69 1573.99,493.82 1545.59,491.69 1534.94,486.01" fill="#737373"/>
<polygon points="1552.69,480.33 1595.29,480.33 1598.84,488.14 1559.79,489.56" fill="#858585"/>
<ellipse cx="1378.75" cy="477.49" rx="4.26" ry="6.39" fill="#6b6b6b"/>
<ellipse cx="1392.95" cy="469.68" rx="6.39" ry="4.97" fill="#6b6b6b"/>
<ellipse cx="1426.67" cy="481.75" rx="3.55" ry="3.19" fill="#6b6b6b"/>
<ellipse cx="1488.79" cy="488.14" rx="4.26" ry="3.55" fill="#6b6b6b"/>
<ellipse cx="1506.54" cy="491.69" rx="4.97" ry="4.26" fill="#6b6b6b"/>
<ellipse cx="1621.91" cy="485.3" rx="7.81" ry="4.26" fill="#6b6b6b"/>
<ellipse cx="1636.11" cy="483.88" rx="2.84" ry="3.55" fill="#6b6b6b"/>
<ellipse cx="1730.18" cy="485.3" rx="3.19" ry="3.19" fill="#6b6b6b"/>
<ellipse cx="1744.38" cy="482.46" rx="3.55" ry="4.97" fill="#6b6b6b"/>
<ellipse cx="1762.13" cy="484.59" rx="3.19" ry="3.19" fill="#6b6b6b"/>
<ellipse cx="1788.76" cy="486.01" rx="4.97" ry="3.55" fill="#6b6b6b"/>
<ellipse cx="1797.63" cy="477.49" rx="3.55" ry="5.68" fill="#6b6b6b"/>
<ellipse cx="1934.3" cy="488.85" rx="3.55" ry="4.26" fill="#6b6b6b"/>
<ellipse cx="1982.23" cy="477.49" rx="4.97" ry="7.81" fill="#6b6b6b"/>
<ellipse cx="1380.52" cy="497.37" rx="2.13" ry="4.26" fill="#6b6b6b"/>
<ellipse cx="1440.87" cy="533.58" rx="3.55" ry="3.19" fill="#6b6b6b"/>
<ellipse cx="1465.72" cy="532.87" rx="2.13" ry="3.19" fill="#6b6b6b"/>
<ellipse cx="1707.11" cy="524.35" rx="2.84" ry="4.26" fill="#6b6b6b"/>
<ellipse cx="1762.13" cy="542.1" rx="6.39" ry="2.84" fill="#6b6b6b"/>
<ellipse cx="1563.34" cy="564.82" rx="2.13" ry="4.26" fill="#6b6b6b"/>
<ellipse cx="1424.9" cy="344.73" rx="1.42" ry="2.84" fill="#6b6b6b"/>
<ellipse cx="1528.55" cy="353.25" rx="1.42" ry="3.19" fill="#6b6b6b"/>
<ellipse cx="1831.36" cy="312.78" rx="2.84" ry="6.39" fill="#6b6b6b"/>
<ellipse cx="1785.21" cy="586.12" rx="2.84" ry="4.26" fill="#6b6b6b"/>
<polygon points="1439.09,556.3 1456.84,551.33 1474.59,554.17 1479.92,563.4 1467.49,574.76 1449.74,572.63 1439.09,565.53" fill="#707070"/>
<polygon points="1451.52,557.72 1467.49,556.3 1472.82,563.4 1463.94,569.08 1453.29,566.24" fill="#8f8f8f"/>
<ellipse cx="1490.57" cy="561.27" rx="4.26" ry="4.26" fill="#6b6b6b"/>
<ellipse cx="1503.7" cy="563.4" rx="3.55" ry="4.26" fill="#6b6b6b"/>
<ellipse cx="1426.67" cy="561.98" rx="2.84" ry="2.84" fill="#6b6b6b"/>
<polygon points="1824.26,585.32 1836.68,575.9 1843.78,573.59 1850.88,572.71 1857.98,575.81 1865.08,573.79 1872.18,570.97 1879.28,568.78 1886.38,570.92 1893.48,571.35 1900.58,569.62 1907.68,568.41 1914.78,570.46 1921.88,571.64 1928.98,567.39 1936.08,565.4 1943.18,566.24 1950.28,565.82 1957.38,566.43 1964.92,565.45 1972.46,570.63 1980.01,572.07 1987.55,573.34 1987.55,601.74 1980.01,600.4 1972.46,601.27 1964.92,606.35 1957.38,602.38 1950.28,602.87 1943.18,600.94 1936.08,604.96 1928.98,602.82 1921.88,601.55 1914.78,600.59 1907.68,600.53 1900.58,602.43 1893.48,605.16 1886.38,601.28 1879.28,603.79 1872.18,600.58 1865.08,600.49 1857.98,603.7 1850.88,600.1 1843.78,603.13 1836.68,598.08 1824.26,595.52" fill="#676767"/>
<polygon points="1796.92,588.25 1805.44,581.86 1814.67,580.44 1820.35,586.12 1818.93,596.77 1808.99,601.74 1798.34,598.9" fill="#676767"/>
<polygon points="1843.78,581.86 1893.48,579.02 1928.98,577.6 1957.38,578.31 1985.78,580.44 1985.78,593.93 1957.38,593.22 1928.98,593.93 1893.48,592.51 1850.88,591.8" fill="#8c8c8c"/>
<polygon points="1943.18,581.15 1985.78,582.57 1985.78,591.09 1946.73,590.38" fill="#9e9e9e"/>
</g></g>
<path d="M1364.5 74.6H1988.2M1364.5 92.43H1988.2M1364.5 110.26H1988.2M1364.5 128.09H1988.2M1364.5 145.92H1988.2M1364.5 163.75H1988.2M1364.5 181.58H1988.2M1364.5 199.41H1988.2M1364.5 217.24H1988.2M1364.5 235.07H1988.2M1364.5 252.9H1988.2M1364.5 270.97H1988.2M1364.5 289.04H1988.2M1364.5 307.11H1988.2M1364.5 325.18H1988.2M1364.5 343.25H1988.2M1364.5 361.32H1988.2M1364.5 379.39H1988.2M1364.5 397.46H1988.2M1364.5 415.53H1988.2M1364.5 433.6H1988.2M1364.5 451.67H1988.2M1364.5 469.74H1988.2M1364.5 487.81H1988.2M1364.5 505.88H1988.2M1364.5 523.95H1988.2M1364.5 542.02H1988.2M1364.5 560.09H1988.2M1364.5 578.16H1988.2M1364.5 596.23H1988.2M1364.5 614.3H1988.2" stroke="#24160a" stroke-opacity="0.78" stroke-width="1.8" stroke-dasharray="1.8 1.6" fill="none"/>
<path d="M1369.5 67.3H1988.2" stroke="#2a2a2a" stroke-width="2.6" stroke-dasharray="2 1" fill="none"/>
<path d="M1383.09 58V67M1409.36 58V67M1435.98 58V67M1462.25 58V67M1488.52 58V67M1515.85 58V67M1541.77 58V67M1568.04 58V67M1594.3 58V67M1620.93 58V67M1647.55 58V67M1674.18 58V67M1702.58 58V67M1728.84 58V67M1754.4 58V67M1780.67 58V67M1806.23 58V67M1832.86 58V67M1858.77 58V67M1885.04 58V67M1911.66 58V67M1937.58 58V67M1963.85 58V67" stroke="#333" stroke-width="1.2" fill="none"/>
<path d="M1369.87 249.2 L1376.97 244.94 L1384.07 242.1 L1391.17 242.81 L1400.05 246.72 L1410.7 253.82 L1421.35 263.4 L1432 263.4 L1449.74 260.21 L1474.59 260.92 L1517.19 260.21 L1538.49 257.37 L1552.69 256.3 L1581.09 253.82 L1609.49 254.88 L1644.99 256.3 L1676.94 253.82 L1705.34 255.59 L1715.99 251.33 L1740.83 251.33 L1769.23 254.88 L1786.98 253.82 L1801.18 258.43 L1843.78 254.88 L1893.48 254.17 L1925.43 252.75 L1946.73 254.88 L1964.48 260.92 L1985.78 263.4" stroke="#0f7d25" stroke-width="2.5" fill="none" stroke-linejoin="round"/>
<path d="M1374.49 437.74 L1384.07 434.9 L1396.5 442 L1432 445.54 L1474.59 449.09 L1538.49 449.09 L1552.69 449.09 L1573.99 447.32 L1609.49 450.16 L1644.99 452.64 L1673.39 455.13 L1698.24 450.87 L1726.63 446.25 L1751.48 445.54 L1786.98 449.09 L1801.18 450.87 L1843.78 451.58 L1893.48 448.38 L1943.18 446.25 L1964.48 450.87 L1987.55 456.19" stroke="#e8f0ff" stroke-width="4.6" fill="none" stroke-linejoin="round" stroke-opacity="0.8"/>
<path d="M1374.49 437.74 L1384.07 434.9 L1396.5 442 L1432 445.54 L1474.59 449.09 L1538.49 449.09 L1552.69 449.09 L1573.99 447.32 L1609.49 450.16 L1644.99 452.64 L1673.39 455.13 L1698.24 450.87 L1726.63 446.25 L1751.48 445.54 L1786.98 449.09 L1801.18 450.87 L1843.78 451.58 L1893.48 448.38 L1943.18 446.25 L1964.48 450.87 L1987.55 456.19" stroke="#1f28e6" stroke-width="2.4" fill="none" stroke-linejoin="round"/>
<path d="M1371.65 494.53 L1378.75 488.14 L1384.07 482.82 L1391.17 484.59 L1396.5 486.37 L1421.35 486.37 L1432 490.98 L1467.49 494.53 L1488.79 498.79 L1517.19 500.57 L1531.39 495.24 L1552.69 494.53 L1559.79 497.02 L1584.64 493.47 L1609.49 495.24 L1634.34 495.24 L1659.19 500.57 L1680.49 504.12 L1687.59 504.12 L1701.79 497.02 L1723.08 492.4 L1740.83 493.47 L1746.16 497.02 L1751.48 490.98 L1801.18 493.47 L1843.78 493.47 L1854.43 490.98 L1857.98 493.82 L1879.28 494.53 L1900.58 491.69 L1928.98 492.4 L1946.73 493.47 L1964.48 494.53 L1987.55 494.53" stroke="#e2202e" stroke-width="2.5" fill="none" stroke-linejoin="round"/>
<path d="M1555 66V575" stroke="#fff" stroke-opacity="0.75" stroke-width="1.6" fill="none"/>
<path d="M1552.7 65V575" stroke="#111" stroke-width="2.4" fill="none"/>
<path d="M1681.9 66V545" stroke="#fff" stroke-opacity="0.75" stroke-width="1.6" fill="none"/>
<path d="M1679.6 65V545" stroke="#111" stroke-width="2.4" fill="none"/>
<path d="M1804.6 66V515" stroke="#fff" stroke-opacity="0.75" stroke-width="1.6" fill="none"/>
<path d="M1802.3 65V515" stroke="#111" stroke-width="2.4" fill="none"/>
<path d="M1947.7 66V520" stroke="#fff" stroke-opacity="0.75" stroke-width="1.6" fill="none"/>
<path d="M1945.4 65V520" stroke="#111" stroke-width="2.4" fill="none"/>
<path d="M1553 334h6" stroke="#111" stroke-width="1.4" fill="none"/>
<text x="1309" y="24.5" class="sans" font-size="14" stroke-width="0.3" fill="#3a3acb" textLength="23" lengthAdjust="spacingAndGlyphs">CDP</text>
<text x="1309" y="41.5" class="sans" font-size="14" stroke-width="0.3" fill="#1a1a1a" textLength="30" lengthAdjust="spacingAndGlyphs">Inline</text>
<text x="1309" y="58" class="sans" font-size="14" stroke-width="0.3" fill="#1a1a1a" textLength="23" lengthAdjust="spacingAndGlyphs">Well</text>
<text x="1375.2" y="24.5" class="sans" font-size="14" stroke-width="0.3" fill="#3a3acb" stroke="#3a3acb" text-anchor="middle" textLength="6.8" lengthAdjust="spacingAndGlyphs">3</text>
<text x="1388.69" y="24.5" class="sans" font-size="14" stroke-width="0.3" fill="#3a3acb" stroke="#3a3acb" text-anchor="middle" textLength="6.8" lengthAdjust="spacingAndGlyphs">9</text>
<text x="1406.44" y="24.5" class="sans" font-size="14" stroke-width="0.3" fill="#3a3acb" stroke="#3a3acb" text-anchor="middle" textLength="13.6" lengthAdjust="spacingAndGlyphs">16</text>
<text x="1424.9" y="24.5" class="sans" font-size="14" stroke-width="0.3" fill="#3a3acb" stroke="#3a3acb" text-anchor="middle" textLength="13.6" lengthAdjust="spacingAndGlyphs">24</text>
<text x="1444.06" y="24.5" class="sans" font-size="14" stroke-width="0.3" fill="#3a3acb" stroke="#3a3acb" text-anchor="middle" textLength="13.6" lengthAdjust="spacingAndGlyphs">32</text>
<text x="1463.23" y="24.5" class="sans" font-size="14" stroke-width="0.3" fill="#3a3acb" stroke="#3a3acb" text-anchor="middle" textLength="13.6" lengthAdjust="spacingAndGlyphs">40</text>
<text x="1482.4" y="24.5" class="sans" font-size="14" stroke-width="0.3" fill="#3a3acb" stroke="#3a3acb" text-anchor="middle" textLength="13.6" lengthAdjust="spacingAndGlyphs">48</text>
<text x="1501.57" y="24.5" class="sans" font-size="14" stroke-width="0.3" fill="#3a3acb" stroke="#3a3acb" text-anchor="middle" textLength="13.6" lengthAdjust="spacingAndGlyphs">56</text>
<text x="1520.74" y="24.5" class="sans" font-size="14" stroke-width="0.3" fill="#3a3acb" stroke="#3a3acb" text-anchor="middle" textLength="13.6" lengthAdjust="spacingAndGlyphs">64</text>
<text x="1540.62" y="24.5" class="sans" font-size="14" stroke-width="0.3" fill="#3a3acb" stroke="#3a3acb" text-anchor="middle" textLength="13.6" lengthAdjust="spacingAndGlyphs">72</text>
<text x="1559.08" y="24.5" class="sans" font-size="14" stroke-width="0.3" fill="#3a3acb" stroke="#3a3acb" text-anchor="middle" textLength="13.6" lengthAdjust="spacingAndGlyphs">80</text>
<text x="1578.25" y="24.5" class="sans" font-size="14" stroke-width="0.3" fill="#3a3acb" stroke="#3a3acb" text-anchor="middle" textLength="13.6" lengthAdjust="spacingAndGlyphs">88</text>
<text x="1597.42" y="24.5" class="sans" font-size="14" stroke-width="0.3" fill="#3a3acb" stroke="#3a3acb" text-anchor="middle" textLength="13.6" lengthAdjust="spacingAndGlyphs">96</text>
<text x="1621.56" y="24.5" class="sans" font-size="14" stroke-width="0.3" fill="#3a3acb" stroke="#3a3acb" text-anchor="middle" textLength="20.4" lengthAdjust="spacingAndGlyphs">106</text>
<text x="1647.83" y="24.5" class="sans" font-size="14" stroke-width="0.3" fill="#3a3acb" stroke="#3a3acb" text-anchor="middle" textLength="20.4" lengthAdjust="spacingAndGlyphs">117</text>
<text x="1675.16" y="24.5" class="sans" font-size="14" stroke-width="0.3" fill="#3a3acb" stroke="#3a3acb" text-anchor="middle" textLength="20.4" lengthAdjust="spacingAndGlyphs">128</text>
<text x="1701.08" y="24.5" class="sans" font-size="14" stroke-width="0.3" fill="#3a3acb" stroke="#3a3acb" text-anchor="middle" textLength="20.4" lengthAdjust="spacingAndGlyphs">139</text>
<text x="1727.34" y="24.5" class="sans" font-size="14" stroke-width="0.3" fill="#3a3acb" stroke="#3a3acb" text-anchor="middle" textLength="20.4" lengthAdjust="spacingAndGlyphs">150</text>
<text x="1753.61" y="24.5" class="sans" font-size="14" stroke-width="0.3" fill="#3a3acb" stroke="#3a3acb" text-anchor="middle" textLength="20.4" lengthAdjust="spacingAndGlyphs">161</text>
<text x="1780.24" y="24.5" class="sans" font-size="14" stroke-width="0.3" fill="#3a3acb" stroke="#3a3acb" text-anchor="middle" textLength="20.4" lengthAdjust="spacingAndGlyphs">172</text>
<text x="1806.51" y="24.5" class="sans" font-size="14" stroke-width="0.3" fill="#3a3acb" stroke="#3a3acb" text-anchor="middle" textLength="20.4" lengthAdjust="spacingAndGlyphs">183</text>
<text x="1833.13" y="24.5" class="sans" font-size="14" stroke-width="0.3" fill="#3a3acb" stroke="#3a3acb" text-anchor="middle" textLength="20.4" lengthAdjust="spacingAndGlyphs">194</text>
<text x="1859.4" y="24.5" class="sans" font-size="14" stroke-width="0.3" fill="#3a3acb" stroke="#3a3acb" text-anchor="middle" textLength="20.4" lengthAdjust="spacingAndGlyphs">205</text>
<text x="1885.31" y="24.5" class="sans" font-size="14" stroke-width="0.3" fill="#3a3acb" stroke="#3a3acb" text-anchor="middle" textLength="20.4" lengthAdjust="spacingAndGlyphs">216</text>
<text x="1911.94" y="24.5" class="sans" font-size="14" stroke-width="0.3" fill="#3a3acb" stroke="#3a3acb" text-anchor="middle" textLength="20.4" lengthAdjust="spacingAndGlyphs">227</text>
<text x="1938.21" y="24.5" class="sans" font-size="14" stroke-width="0.3" fill="#3a3acb" stroke="#3a3acb" text-anchor="middle" textLength="20.4" lengthAdjust="spacingAndGlyphs">238</text>
<text x="1964.48" y="24.5" class="sans" font-size="14" stroke-width="0.3" fill="#3a3acb" stroke="#3a3acb" text-anchor="middle" textLength="20.4" lengthAdjust="spacingAndGlyphs">249</text>
<text x="1381.59" y="41.5" class="sans" font-size="14" stroke-width="0.3" fill="#1a1a1a" stroke="#1a1a1a" text-anchor="middle" textLength="21" lengthAdjust="spacingAndGlyphs">652</text>
<text x="1407.86" y="41.5" class="sans" font-size="14" stroke-width="0.3" fill="#1a1a1a" stroke="#1a1a1a" text-anchor="middle" textLength="21" lengthAdjust="spacingAndGlyphs">663</text>
<text x="1434.48" y="41.5" class="sans" font-size="14" stroke-width="0.3" fill="#1a1a1a" stroke="#1a1a1a" text-anchor="middle" textLength="21" lengthAdjust="spacingAndGlyphs">674</text>
<text x="1460.75" y="41.5" class="sans" font-size="14" stroke-width="0.3" fill="#1a1a1a" stroke="#1a1a1a" text-anchor="middle" textLength="21" lengthAdjust="spacingAndGlyphs">685</text>
<text x="1487.02" y="41.5" class="sans" font-size="14" stroke-width="0.3" fill="#1a1a1a" stroke="#1a1a1a" text-anchor="middle" textLength="21" lengthAdjust="spacingAndGlyphs">696</text>
<text x="1514.35" y="41.5" class="sans" font-size="14" stroke-width="0.3" fill="#1a1a1a" stroke="#1a1a1a" text-anchor="middle" textLength="21" lengthAdjust="spacingAndGlyphs">707</text>
<text x="1540.27" y="41.5" class="sans" font-size="14" stroke-width="0.3" fill="#1a1a1a" stroke="#1a1a1a" text-anchor="middle" textLength="21" lengthAdjust="spacingAndGlyphs">718</text>
<text x="1566.54" y="41.5" class="sans" font-size="14" stroke-width="0.3" fill="#1a1a1a" stroke="#1a1a1a" text-anchor="middle" textLength="21" lengthAdjust="spacingAndGlyphs">729</text>
<text x="1592.8" y="41.5" class="sans" font-size="14" stroke-width="0.3" fill="#1a1a1a" stroke="#1a1a1a" text-anchor="middle" textLength="21" lengthAdjust="spacingAndGlyphs">740</text>
<text x="1619.43" y="41.5" class="sans" font-size="14" stroke-width="0.3" fill="#1a1a1a" stroke="#1a1a1a" text-anchor="middle" textLength="21" lengthAdjust="spacingAndGlyphs">751</text>
<text x="1646.05" y="41.5" class="sans" font-size="14" stroke-width="0.3" fill="#1a1a1a" stroke="#1a1a1a" text-anchor="middle" textLength="21" lengthAdjust="spacingAndGlyphs">762</text>
<text x="1672.68" y="41.5" class="sans" font-size="14" stroke-width="0.3" fill="#1a1a1a" stroke="#1a1a1a" text-anchor="middle" textLength="21" lengthAdjust="spacingAndGlyphs">773</text>
<text x="1701.08" y="41.5" class="sans" font-size="14" stroke-width="0.3" fill="#1a1a1a" stroke="#1a1a1a" text-anchor="middle" textLength="21" lengthAdjust="spacingAndGlyphs">778</text>
<text x="1727.34" y="41.5" class="sans" font-size="14" stroke-width="0.3" fill="#1a1a1a" stroke="#1a1a1a" text-anchor="middle" textLength="21" lengthAdjust="spacingAndGlyphs">782</text>
<text x="1752.9" y="41.5" class="sans" font-size="14" stroke-width="0.3" fill="#1a1a1a" stroke="#1a1a1a" text-anchor="middle" textLength="21" lengthAdjust="spacingAndGlyphs">785</text>
<text x="1779.17" y="41.5" class="sans" font-size="14" stroke-width="0.3" fill="#1a1a1a" stroke="#1a1a1a" text-anchor="middle" textLength="21" lengthAdjust="spacingAndGlyphs">788</text>
<text x="1804.73" y="41.5" class="sans" font-size="14" stroke-width="0.3" fill="#1a1a1a" stroke="#1a1a1a" text-anchor="middle" textLength="21" lengthAdjust="spacingAndGlyphs">792</text>
<text x="1831.36" y="41.5" class="sans" font-size="14" stroke-width="0.3" fill="#1a1a1a" stroke="#1a1a1a" text-anchor="middle" textLength="21" lengthAdjust="spacingAndGlyphs">803</text>
<text x="1857.27" y="41.5" class="sans" font-size="14" stroke-width="0.3" fill="#1a1a1a" stroke="#1a1a1a" text-anchor="middle" textLength="21" lengthAdjust="spacingAndGlyphs">814</text>
<text x="1883.54" y="41.5" class="sans" font-size="14" stroke-width="0.3" fill="#1a1a1a" stroke="#1a1a1a" text-anchor="middle" textLength="21" lengthAdjust="spacingAndGlyphs">825</text>
<text x="1910.16" y="41.5" class="sans" font-size="14" stroke-width="0.3" fill="#1a1a1a" stroke="#1a1a1a" text-anchor="middle" textLength="21" lengthAdjust="spacingAndGlyphs">836</text>
<text x="1936.08" y="41.5" class="sans" font-size="14" stroke-width="0.3" fill="#1a1a1a" stroke="#1a1a1a" text-anchor="middle" textLength="21" lengthAdjust="spacingAndGlyphs">847</text>
<text x="1962.35" y="41.5" class="sans" font-size="14" stroke-width="0.3" fill="#1a1a1a" stroke="#1a1a1a" text-anchor="middle" textLength="21" lengthAdjust="spacingAndGlyphs">856</text>
<text x="1552.7" y="58" class="sans" font-size="14" stroke-width="0.3" fill="#1a1a1a" stroke="#1a1a1a" text-anchor="middle" textLength="55" lengthAdjust="spacingAndGlyphs">Sawan-01</text>
<text x="1679.6" y="58" class="sans" font-size="14" stroke-width="0.3" fill="#1a1a1a" stroke="#1a1a1a" text-anchor="middle" textLength="55" lengthAdjust="spacingAndGlyphs">Sawan-14</text>
<text x="1802.3" y="58" class="sans" font-size="14" stroke-width="0.3" fill="#1a1a1a" stroke="#1a1a1a" text-anchor="middle" textLength="55" lengthAdjust="spacingAndGlyphs">Sawan-07</text>
<text x="1945.4" y="58" class="sans" font-size="14" stroke-width="0.3" fill="#1a1a1a" stroke="#1a1a1a" text-anchor="middle" textLength="55" lengthAdjust="spacingAndGlyphs">Sawan-08</text>
<text x="1359.5" y="79.6" class="sans" font-size="14" stroke-width="0.3" fill="#3030c0" stroke="#3030c0" text-anchor="end" textLength="25" lengthAdjust="spacingAndGlyphs">1700</text>
<text x="1359.5" y="115.26" class="sans" font-size="14" stroke-width="0.3" fill="#3030c0" stroke="#3030c0" text-anchor="end" textLength="25" lengthAdjust="spacingAndGlyphs">1750</text>
<text x="1359.5" y="150.92" class="sans" font-size="14" stroke-width="0.3" fill="#3030c0" stroke="#3030c0" text-anchor="end" textLength="25" lengthAdjust="spacingAndGlyphs">1800</text>
<text x="1359.5" y="186.58" class="sans" font-size="14" stroke-width="0.3" fill="#3030c0" stroke="#3030c0" text-anchor="end" textLength="25" lengthAdjust="spacingAndGlyphs">1850</text>
<text x="1359.5" y="222.24" class="sans" font-size="14" stroke-width="0.3" fill="#3030c0" stroke="#3030c0" text-anchor="end" textLength="25" lengthAdjust="spacingAndGlyphs">1900</text>
<text x="1359.5" y="257.9" class="sans" font-size="14" stroke-width="0.3" fill="#3030c0" stroke="#3030c0" text-anchor="end" textLength="25" lengthAdjust="spacingAndGlyphs">1950</text>
<text x="1359.5" y="294.04" class="sans" font-size="14" stroke-width="0.3" fill="#3030c0" stroke="#3030c0" text-anchor="end" textLength="25" lengthAdjust="spacingAndGlyphs">2000</text>
<text x="1359.5" y="330.18" class="sans" font-size="14" stroke-width="0.3" fill="#3030c0" stroke="#3030c0" text-anchor="end" textLength="25" lengthAdjust="spacingAndGlyphs">2050</text>
<text x="1359.5" y="366.32" class="sans" font-size="14" stroke-width="0.3" fill="#3030c0" stroke="#3030c0" text-anchor="end" textLength="25" lengthAdjust="spacingAndGlyphs">2100</text>
<text x="1359.5" y="402.46" class="sans" font-size="14" stroke-width="0.3" fill="#3030c0" stroke="#3030c0" text-anchor="end" textLength="25" lengthAdjust="spacingAndGlyphs">2150</text>
<text x="1359.5" y="438.6" class="sans" font-size="14" stroke-width="0.3" fill="#3030c0" stroke="#3030c0" text-anchor="end" textLength="25" lengthAdjust="spacingAndGlyphs">2200</text>
<text x="1359.5" y="474.74" class="sans" font-size="14" stroke-width="0.3" fill="#3030c0" stroke="#3030c0" text-anchor="end" textLength="25" lengthAdjust="spacingAndGlyphs">2250</text>
<text x="1359.5" y="510.88" class="sans" font-size="14" stroke-width="0.3" fill="#3030c0" stroke="#3030c0" text-anchor="end" textLength="25" lengthAdjust="spacingAndGlyphs">2300</text>
<text x="1359.5" y="547.02" class="sans" font-size="14" stroke-width="0.3" fill="#3030c0" stroke="#3030c0" text-anchor="end" textLength="25" lengthAdjust="spacingAndGlyphs">2350</text>
<text x="1359.5" y="583.16" class="sans" font-size="14" stroke-width="0.3" fill="#3030c0" stroke="#3030c0" text-anchor="end" textLength="25" lengthAdjust="spacingAndGlyphs">2400</text>
<text x="1359.5" y="619.3" class="sans" font-size="14" stroke-width="0.3" fill="#3030c0" stroke="#3030c0" text-anchor="end" textLength="25" lengthAdjust="spacingAndGlyphs">2450</text>
<text class="serif" transform="translate(1326 341.5) rotate(-90)" font-size="19.5" fill="#333" text-anchor="middle" textLength="74" lengthAdjust="spacingAndGlyphs">TWT (ms)</text>
<text class="sans" x="1362.8" y="476.8" font-size="21" font-weight="bold" fill="#0a0a0a" textLength="119" lengthAdjust="spacingAndGlyphs">C-sand interval</text>
<text class="serif" x="1379" y="598.2" font-size="50" fill="#000">b)</text>
</g>
<g id="panel-c">
<rect x="1305" y="623.5" width="685" height="617" fill="#000"/>
<path d="M1438 780.6 L1750 656 L1906.7 749.6 M1750 656 L1750 988 M1435.5 1111.7 L1750 988 M1906.3 1081.5 L1750 988" stroke="#fff" stroke-width="2.6" fill="none" stroke-linecap="round"/>
<path d="M1435.4 824V1111.7M1422.5 780.2H1435.4M1422.5 813.27H1435.4M1422.5 846.34H1435.4M1422.5 879.41H1435.4M1422.5 912.48H1435.4M1422.5 945.55H1435.4M1422.5 978.62H1435.4M1422.5 1011.69H1435.4M1422.5 1044.76H1435.4M1422.5 1077.83H1435.4M1422.5 1110.9H1435.4M1906.7 749.6V1081.5M1906.7 749.6H1919.5M1906.7 782.8H1919.5M1906.7 816H1919.5M1906.7 849.2H1919.5M1906.7 882.4H1919.5M1906.7 915.6H1919.5M1906.7 948.8H1919.5M1906.7 982H1919.5M1906.7 1015.2H1919.5M1906.7 1048.4H1919.5M1906.7 1081.6H1919.5" stroke="#fff" stroke-width="2.6" fill="none" stroke-linecap="round"/>
<path d="M1435.5 1111.7 L1593.5 1204 L1906.3 1081.5 M1438 780.6 L1592.5 872.7" stroke="#fff" stroke-width="2.6" fill="none" stroke-linecap="round"/>
<path d="M1538.6 741.5l-2.4 -8.5M1643.6 699.5l-2.6 -8.5M1831.5 705.5l4.5 -8M1750 656l-4.5 -9M1750 656l5 -8.5M1906.7 749.6l5.5 -7.5" stroke="#fff" stroke-width="1.6" fill="none"/>
<polygon points="1529.6,832.5 1630.8,784.5 1675.2,739 1755.7,764.9 1838.5,733.1 1875.8,735.7 1875.8,1065.7 1838.5,1063.1 1755.7,1094.9 1675.2,1069 1630.8,1114.5 1529.6,1162.5" fill="#fe7a14"/>
<g clip-path="url(#fsl0)">
<g transform="translate(1529.6 832) rotate(-25.3754) translate(-50 0)" filter="url(#fencef)"><g filter="url(#fblur)">
<rect x="-95.85" y="190.64" width="170.15" height="111.13" fill="#797979"/>
<rect x="-95.85" y="190.64" width="170.15" height="2.71" fill="#333333"/>
<rect x="-95.85" y="193.35" width="170.15" height="19.88" fill="#797979"/>
<rect x="-95.85" y="213.23" width="170.15" height="12.65" fill="#333333"/>
<rect x="-95.85" y="225.88" width="170.15" height="36.14" fill="#797979"/>
<rect x="-95.85" y="262.02" width="170.15" height="12.65" fill="#333333"/>
<rect x="-95.85" y="274.67" width="170.15" height="24.4" fill="#797979"/>
<rect x="-95.85" y="205.01" width="170.15" height="1.99" fill="#adadad"/>
<rect x="-95.85" y="237.81" width="170.15" height="1.45" fill="#a3a3a3"/>
<rect x="-95.85" y="282.98" width="170.15" height="1.45" fill="#a3a3a3"/>
<rect x="-95.85" y="235.28" width="170.15" height="4.7" fill="#bdbdbd"/>
<rect x="-95.85" y="236.45" width="170.15" height="2.35" fill="#d1d1d1"/>
</g></g></g>
<g clip-path="url(#fsl1)">
<g transform="translate(1630.8 784) rotate(-45.701) translate(-450 0)" filter="url(#fencef)"><g filter="url(#fblur)">
<rect x="209.1" y="147.36" width="155.31" height="85.9" fill="#797979"/>
<rect x="209.1" y="147.36" width="155.31" height="2.1" fill="#333333"/>
<rect x="209.1" y="149.46" width="155.31" height="15.36" fill="#797979"/>
<rect x="209.1" y="164.82" width="155.31" height="9.78" fill="#333333"/>
<rect x="209.1" y="174.6" width="155.31" height="27.94" fill="#797979"/>
<rect x="209.1" y="202.54" width="155.31" height="9.78" fill="#333333"/>
<rect x="209.1" y="212.31" width="155.31" height="18.86" fill="#797979"/>
<rect x="209.1" y="158.47" width="155.31" height="1.54" fill="#adadad"/>
<rect x="209.1" y="183.82" width="155.31" height="1.12" fill="#a3a3a3"/>
<rect x="209.1" y="218.74" width="155.31" height="1.12" fill="#a3a3a3"/>
<rect x="209.1" y="181.86" width="155.31" height="3.63" fill="#bdbdbd"/>
<rect x="209.1" y="182.77" width="155.31" height="1.82" fill="#d1d1d1"/>
</g></g></g>
<g clip-path="url(#fsl2)">
<g transform="translate(1675.2 738.5) rotate(17.835) translate(-850 0)" filter="url(#fencef)"><g filter="url(#fblur)">
<rect x="911.54" y="200.86" width="128.4" height="117.09" fill="#797979"/>
<rect x="911.54" y="200.86" width="128.4" height="2.86" fill="#333333"/>
<rect x="911.54" y="203.72" width="128.4" height="20.94" fill="#797979"/>
<rect x="911.54" y="224.66" width="128.4" height="13.33" fill="#333333"/>
<rect x="911.54" y="237.99" width="128.4" height="38.08" fill="#797979"/>
<rect x="911.54" y="276.06" width="128.4" height="13.33" fill="#333333"/>
<rect x="911.54" y="289.39" width="128.4" height="25.7" fill="#797979"/>
<rect x="911.54" y="216" width="128.4" height="2.09" fill="#adadad"/>
<rect x="911.54" y="250.55" width="128.4" height="1.52" fill="#a3a3a3"/>
<rect x="911.54" y="298.15" width="128.4" height="1.52" fill="#a3a3a3"/>
<rect x="911.54" y="247.89" width="128.4" height="4.95" fill="#bdbdbd"/>
<rect x="911.54" y="249.12" width="128.4" height="2.48" fill="#d1d1d1"/>
</g></g></g>
<g clip-path="url(#fsl3)">
<g transform="translate(1755.7 764.4) rotate(-21.0097) translate(-1250 0)" filter="url(#fencef)"><g filter="url(#fblur)">
<rect x="1127.33" y="196.97" width="138.64" height="114.82" fill="#797979"/>
<rect x="1127.33" y="196.97" width="138.64" height="2.8" fill="#333333"/>
<rect x="1127.33" y="199.77" width="138.64" height="20.54" fill="#797979"/>
<rect x="1127.33" y="220.31" width="138.64" height="13.07" fill="#333333"/>
<rect x="1127.33" y="233.38" width="138.64" height="37.34" fill="#797979"/>
<rect x="1127.33" y="270.72" width="138.64" height="13.07" fill="#333333"/>
<rect x="1127.33" y="283.79" width="138.64" height="25.21" fill="#797979"/>
<rect x="1127.33" y="211.82" width="138.64" height="2.05" fill="#adadad"/>
<rect x="1127.33" y="245.7" width="138.64" height="1.49" fill="#a3a3a3"/>
<rect x="1127.33" y="292.38" width="138.64" height="1.49" fill="#a3a3a3"/>
<rect x="1127.33" y="243.09" width="138.64" height="4.85" fill="#bdbdbd"/>
<rect x="1127.33" y="244.3" width="138.64" height="2.43" fill="#d1d1d1"/>
</g></g></g>
<g clip-path="url(#fsl4)">
<g transform="translate(1838.5 732.6) rotate(3.9874) translate(-1650 0)" filter="url(#fencef)"><g filter="url(#fblur)">
<rect x="1660.88" y="210.49" width="53.53" height="122.7" fill="#797979"/>
<rect x="1660.88" y="210.49" width="53.53" height="2.99" fill="#333333"/>
<rect x="1660.88" y="213.48" width="53.53" height="21.95" fill="#797979"/>
<rect x="1660.88" y="235.43" width="53.53" height="13.97" fill="#333333"/>
<rect x="1660.88" y="249.39" width="53.53" height="39.9" fill="#797979"/>
<rect x="1660.88" y="289.3" width="53.53" height="13.97" fill="#333333"/>
<rect x="1660.88" y="303.26" width="53.53" height="26.93" fill="#797979"/>
<rect x="1660.88" y="226.35" width="53.53" height="2.19" fill="#adadad"/>
<rect x="1660.88" y="262.56" width="53.53" height="1.6" fill="#a3a3a3"/>
<rect x="1660.88" y="312.44" width="53.53" height="1.6" fill="#a3a3a3"/>
<rect x="1660.88" y="259.77" width="53.53" height="5.19" fill="#bdbdbd"/>
<rect x="1660.88" y="261.07" width="53.53" height="2.59" fill="#d1d1d1"/>
</g></g></g>
<path d="M1529.6 832 L1529.6 1163M1630.8 998V1115M1675.2 952.5V1069.5M1755.7 978.4V1095.4M1838.5 946.6V1063.6M1875.8 949.2V1066.2M1529.6 1163 L1630.8 1115 L1675.2 1069.5 L1755.7 1095.4 L1838.5 1063.6 L1875.8 1066.2" stroke="#fff3df" stroke-width="1.2" fill="none" stroke-opacity="0.9"/>
<polygon points="1437,995.2 1746.4,868.6 1903.4,963.6 1594,1090" fill="#fe7a14"/>
<g clip-path="url(#sliceclip)"><g transform="matrix(0.5567 0.0722 -0.1165 0.2731 1399.9541 763.8233)">
<g transform="rotate(42.4)" filter="url(#slicef)">
<g transform="rotate(-42.4)" clip-path="url(#mapclip)">
<g filter="url(#mapblur)">
<rect x="150" y="150" width="1000" height="1000" fill="#252525"/>
<path d="M496.46 575.28C519.99 551.76 541.17 503.52 567.05 476.46C592.93 449.41 623.52 427.05 651.75 412.94C679.99 398.82 705.87 401.17 736.46 391.76C767.05 382.35 807.04 361.17 835.28 356.47C863.51 351.76 875.28 348.23 905.87 363.53C936.45 378.82 1007.04 423.52 1018.8 448.23C1030.57 472.93 1007.04 467.05 976.45 511.76C945.86 556.46 882.34 654.11 835.28 716.46C788.22 778.81 734.11 848.22 694.11 885.87C654.11 923.51 638.81 932.92 595.28 942.34C551.76 951.75 481.17 957.63 432.94 942.34C384.7 927.04 337.64 876.45 305.88 850.57C274.12 824.69 236.47 816.46 242.35 787.04C248.23 757.63 310.59 702.34 341.17 674.11C371.76 645.87 400 634.11 425.88 617.64C451.76 601.17 472.93 598.81 496.46 575.28Z" fill="#343434"/>
<path d="M700 250C711.67 247.5 736.67 270.83 760 285C783.33 299.17 814.17 318.33 840 335C865.83 351.67 890 368.33 915 385C940 401.67 982.5 420.83 990 435C997.5 449.17 975 469.17 960 470C945 470.83 920 448.33 900 440C880 431.67 856.67 430 840 420C823.33 410 816.67 393.33 800 380C783.33 366.67 758.33 353.33 740 340C721.67 326.67 696.67 315 690 300C683.33 285 688.33 252.5 700 250Z" fill="#3e3e3e"/>
<path d="M312.22 736.42C330.26 731.75 366.35 745.78 388.4 748.45C410.46 751.13 431.84 746.45 444.54 752.46C457.24 758.48 461.91 774.51 464.59 784.54C467.26 794.56 472.61 803.92 460.58 812.61C448.55 821.29 410.46 833.32 392.41 836.66C374.37 840.01 364.35 836.66 352.32 832.65C340.29 828.64 332.27 821.96 320.24 812.61C308.21 803.25 281.48 789.22 280.14 776.52C278.81 763.82 294.18 741.1 312.22 736.42Z" fill="#393939"/>
<path d="M640 235C653.33 230 686.67 230.83 700 240C713.33 249.17 726.67 280 720 290C713.33 300 676.67 303.33 660 300C643.33 296.67 623.33 280.83 620 270C616.67 259.17 626.67 240 640 235Z" fill="#3e3e3e"/>
<path d="M470 520C476.67 501.67 505 473.33 520 470C535 466.67 560 485 560 500C560 515 533.33 546.67 520 560C506.67 573.33 488.33 586.67 480 580C471.67 573.33 463.33 538.33 470 520Z" fill="#3e3e3e"/>
<path d="M432.94 674.11C432.94 657.64 438.82 634.11 447.05 617.64C455.29 601.17 471.76 587.64 482.35 575.28C492.93 562.93 496.46 549.99 510.58 543.52C524.7 537.05 551.17 534.7 567.05 536.46C582.93 538.23 594.7 558.23 605.87 554.11C617.05 549.99 626.46 526.46 634.11 511.76C641.75 497.05 641.75 477.64 651.75 465.88C661.75 454.11 677.64 448.23 694.11 441.17C710.58 434.11 732.93 425.88 750.58 423.52C768.22 421.17 789.4 420.58 799.99 427.05C810.57 433.52 804.69 456.46 814.1 462.35C823.51 468.23 841.16 464.46 856.46 462.35C871.75 460.23 890.57 451.05 905.87 449.64C921.16 448.23 935.28 451.52 948.22 453.88C961.16 456.23 976.45 458.58 983.51 463.76C990.57 468.93 996.45 475.76 990.57 484.93C984.69 494.11 962.34 503.76 948.22 518.82C934.1 533.87 921.16 556.46 905.87 575.28C890.57 594.11 870.57 615.28 856.46 631.75C842.34 648.22 836.46 661.75 821.16 674.11C805.87 686.46 782.34 695.28 764.69 705.87C747.05 716.46 728.22 724.1 715.28 737.63C702.34 751.16 697.64 774.1 687.05 787.04C676.46 799.99 667.05 810.57 651.75 815.28C636.46 819.98 609.4 819.98 595.28 815.28C581.17 810.57 577.64 798.81 567.05 787.04C556.46 775.28 545.87 752.93 531.76 744.69C517.64 736.46 496.46 742.34 482.35 737.63C468.23 732.93 455.29 727.05 447.05 716.46C438.82 705.87 432.94 690.58 432.94 674.11Z" fill="#6b6b6b"/>
<path d="M320.24 720.38C320.91 714.37 340.29 709.02 352.32 704.35C364.35 699.67 383.06 689.64 392.41 692.32C401.77 694.99 409.12 712.37 408.45 720.38C407.78 728.4 398.43 737.09 388.4 740.43C378.38 743.77 359.67 743.77 348.31 740.43C336.95 737.09 319.57 726.4 320.24 720.38Z" fill="#6b6b6b"/>
<path d="M296.18 822.63C296.85 814.95 310.88 810.94 320.24 812.61C329.6 814.28 340.29 828.64 352.32 832.65C364.35 836.66 381.05 839.34 392.41 836.66C403.77 833.99 410.46 821.96 420.48 816.62C430.51 811.27 439.19 807.26 452.56 804.59C465.92 801.91 481.96 801.25 500.67 800.58C519.39 799.91 547.45 797.9 564.83 800.58C582.2 803.25 594.9 809.93 604.92 816.62C614.95 823.3 618.29 833.99 624.97 840.67C631.65 847.36 643.02 850.7 645.02 856.71C647.02 862.73 642.35 870.75 637 876.76C631.65 882.77 622.3 892.8 612.94 892.8C603.59 892.8 589.55 880.44 580.87 876.76C572.18 873.08 568.84 870.08 560.82 870.75C552.8 871.41 542.77 879.77 532.75 880.77C522.73 881.77 512.7 877.43 500.67 876.76C488.64 876.09 471.27 875.76 460.58 876.76C449.89 877.76 444.54 878.77 436.52 882.77C428.5 886.78 421.82 898.48 412.46 900.82C403.11 903.16 392.41 900.82 380.38 896.81C368.36 892.8 350.98 883.11 340.29 876.76C329.6 870.41 323.58 867.74 316.23 858.72C308.88 849.7 295.51 830.32 296.18 822.63Z" fill="#6b6b6b"/>
<path d="M770 296C775 292.67 793.33 295 800 300C806.67 305 811.67 320 810 326C808.33 332 796.67 337 790 336C783.33 335 773.33 326.67 770 320C766.67 313.33 765 299.33 770 296Z" fill="#6b6b6b"/>
<path d="M850 342C854 339 864.33 339.67 872 348C879.67 356.33 893.67 381 896 392C898.33 403 891.67 413.33 886 414C880.33 414.67 868.33 404 862 396C855.67 388 850 375 848 366C846 357 846 345 850 342Z" fill="#6b6b6b"/>
<path d="M898 372C900.33 370 911.33 373 914 376C916.67 379 916.33 388 914 390C911.67 392 902.67 391 900 388C897.33 385 895.67 374 898 372Z" fill="#6b6b6b"/>
<path d="M966 414C972 410.33 984.33 413.67 990 418C995.67 422.33 999.33 431.67 1000 440C1000.67 448.33 999.67 463 994 468C988.33 473 972.67 474.67 966 470C959.33 465.33 954 449.33 954 440C954 430.67 960 417.67 966 414Z" fill="#6b6b6b"/>
<path d="M896 426C898.67 421.67 912 420.67 916 424C920 427.33 922.67 441.67 920 446C917.33 450.33 904 453.33 900 450C896 446.67 893.33 430.33 896 426Z" fill="#6b6b6b"/>
<path d="M650 236C652 233 660.33 235.67 662 240C663.67 244.33 662 259 660 262C658 265 651.67 262.33 650 258C648.33 253.67 648 239 650 236Z" fill="#6b6b6b"/>
<path d="M732.41 452.22C736.42 446.21 754.47 442.87 768.5 440.19C782.53 437.52 804.59 434.18 816.62 436.18C828.64 438.19 840.67 444.87 840.67 452.22C840.67 459.57 827.31 474.94 816.62 480.29C805.92 485.63 788.55 484.97 776.52 484.3C764.49 483.63 751.79 481.63 744.44 476.28C737.09 470.93 728.4 458.24 732.41 452.22Z" fill="#3e3e3e"/>
<path d="M692.32 584.54C696.33 577.19 715.71 574.51 728.4 568.5C741.1 562.49 759.14 555.13 768.5 548.45C777.86 541.77 779.19 528.4 784.54 528.4C789.89 528.4 803.25 539.1 800.58 548.45C797.9 557.81 779.19 574.51 768.5 584.54C757.81 594.56 747.12 603.92 736.42 608.6C725.73 613.27 711.7 616.62 704.35 612.61C697 608.6 688.31 591.89 692.32 584.54Z" fill="#3e3e3e"/>
<path d="M664.25 512.37C669.6 510.36 684.3 522.39 692.32 528.4C700.34 534.42 713.03 543.11 712.37 548.45C711.7 553.8 697 561.82 688.31 560.48C679.62 559.14 664.25 548.45 660.24 540.43C656.23 532.41 658.9 514.37 664.25 512.37Z" fill="#3e3e3e"/>
<path d="M856.71 432.17C864.06 426.83 884.78 420.81 892.8 424.15C900.82 427.5 908.17 444.87 904.83 452.22C901.49 459.57 882.11 467.59 872.75 468.26C863.39 468.93 851.37 462.25 848.69 456.23C846.02 450.22 849.36 437.52 856.71 432.17Z" fill="#3e3e3e"/>
<path d="M936.9 460.24C937.57 453.56 953.61 449.55 960.96 452.22C968.31 454.89 981.68 469.6 981.01 476.28C980.34 482.96 964.3 494.99 956.95 492.32C949.6 489.64 936.24 466.92 936.9 460.24Z" fill="#3e3e3e"/>
<path d="M444.54 752.46C452.56 741.1 465.92 734.42 476.62 732.41C487.31 730.41 499.34 735.09 508.69 740.43C518.05 745.78 526.74 756.47 532.75 764.49C538.77 772.51 550.13 782.53 544.78 788.55C539.43 794.56 514.71 796.57 500.67 800.58C486.64 804.59 472.61 812.61 460.58 812.61C448.55 812.61 431.17 810.6 428.5 800.58C425.83 790.55 436.52 763.82 444.54 752.46Z" fill="#343434"/>
<path d="M500.67 584.06C507.36 582.72 519.39 597.42 532.75 600.1C546.12 602.77 566.16 602.77 580.87 600.1C595.57 597.42 608.93 582.72 620.96 584.06C632.99 585.39 645.69 598.76 653.04 608.12C660.39 617.47 658.39 630.84 665.07 640.19C671.75 649.55 687.12 654.89 693.14 664.25C699.15 673.61 703.83 684.3 701.15 696.33C698.48 708.36 686.45 723.06 677.1 736.42C667.74 749.79 654.38 765.83 645.02 776.52C635.66 787.21 630.32 797.24 620.96 800.58C611.61 803.92 596.9 803.25 588.89 796.57C580.87 789.89 580.87 770.51 572.85 760.48C564.83 750.46 550.13 743.11 540.77 736.42C531.41 729.74 526.07 723.06 516.71 720.38C507.36 717.71 492.65 724.39 484.64 720.38C476.62 716.38 469.93 705.68 468.6 696.33C467.26 686.97 471.27 673.61 476.62 664.25C481.96 654.89 498 649.55 500.67 640.19C503.35 630.84 492.65 617.47 492.65 608.12C492.65 598.76 493.99 585.39 500.67 584.06Z" fill="#8a8a8a"/>
<path d="M508.69 608.12C516.04 603.44 528.74 610.79 540.77 612.13C552.8 613.46 571.51 610.12 580.87 616.13C590.22 622.15 596.9 637.52 596.9 648.21C596.9 658.9 590.22 673.61 580.87 680.29C571.51 686.97 552.8 689.64 540.77 688.31C528.74 686.97 516.04 680.29 508.69 672.27C501.34 664.25 496.66 650.88 496.66 640.19C496.66 629.5 501.34 612.79 508.69 608.12Z" fill="#9c9c9c"/>
<path d="M580.87 720.38C588.22 713.7 607.6 715.04 620.96 712.37C634.33 709.69 651.03 701.67 661.06 704.35C671.08 707.02 681.11 717.71 681.11 728.4C681.11 739.1 669.75 757.81 661.06 768.5C652.37 779.19 640.34 788.55 628.98 792.56C617.62 796.57 601.58 799.24 592.89 792.56C584.21 785.88 578.86 764.49 576.86 752.46C574.85 740.43 573.52 727.07 580.87 720.38Z" fill="#9c9c9c"/>
<path d="M460.58 824.64C466.59 817.62 485.97 808.26 500.67 804.59C515.38 800.91 535.76 800.24 548.79 802.58C561.82 804.92 573.52 810.94 578.86 818.62C584.21 826.31 583.54 840.67 580.87 848.69C578.19 856.71 572.18 863.06 562.82 866.74C553.47 870.41 537.43 871.41 524.73 870.75C512.03 870.08 496.66 866.74 486.64 862.73C476.62 858.72 468.93 853.04 464.59 846.69C460.24 840.34 454.56 831.65 460.58 824.64Z" fill="#9c9c9c"/>
<path d="M808.6 544.44C812.61 536.42 829.98 525.73 840.67 520.38C851.37 515.04 860.72 512.37 872.75 512.37C884.78 512.37 904.83 515.04 912.85 520.38C920.87 525.73 924.88 536.42 920.87 544.44C916.86 552.46 900.82 563.15 888.79 568.5C876.76 573.85 860.72 576.52 848.69 576.52C836.66 576.52 823.3 573.85 816.62 568.5C809.93 563.15 804.59 552.46 808.6 544.44Z" fill="#949494"/>
<path d="M732.41 634.66C737.43 628.31 751.46 620.63 762.49 618.62C773.51 616.62 789.89 618.95 798.57 622.63C807.26 626.31 813.27 633.99 814.61 640.67C815.95 647.36 812.94 657.05 806.59 662.73C800.24 668.41 786.54 673.42 776.52 674.76C766.5 676.09 753.8 673.75 746.45 670.75C739.1 667.74 734.75 662.73 732.41 656.71C730.07 650.7 727.4 641.01 732.41 634.66Z" fill="#9c9c9c"/>
<path d="M660.24 476.28C664.92 472.27 681.63 469.6 688.31 472.27C694.99 474.94 701.67 486.97 700.34 492.32C699 497.66 686.97 503.68 680.29 504.35C673.61 505.01 663.58 501.01 660.24 496.33C656.9 491.65 655.56 480.29 660.24 476.28Z" fill="#808080"/>
<path d="M300.19 824.64C304.2 820.63 318.24 817.95 324.25 820.63C330.26 823.3 336.95 835.33 336.28 840.67C335.61 846.02 326.26 852.03 320.24 852.7C314.23 853.37 303.53 849.36 300.19 844.68C296.85 840.01 296.18 828.64 300.19 824.64Z" fill="#808080"/>
<path d="M388.4 692.32C393.75 686.97 412.46 678.95 420.48 680.29C428.5 681.63 437.86 693.65 436.52 700.34C435.18 707.02 420.48 718.38 412.46 720.38C404.44 722.39 392.41 717.04 388.4 712.37C384.39 707.69 383.06 697.66 388.4 692.32Z" fill="#808080"/>
<path d="M340.29 864.73C344.97 862.73 363.68 865.4 372.37 868.74C381.05 872.08 392.41 880.77 392.41 884.78C392.41 888.79 380.38 893.47 372.37 892.8C364.35 892.13 349.64 885.45 344.3 880.77C338.95 876.09 335.61 866.74 340.29 864.73Z" fill="#808080"/>
<path d="M512.7 620.14C522.06 615.47 554.8 610.79 564.83 616.13C574.85 621.48 578.19 644.2 572.85 652.22C567.5 660.24 543.44 665.59 532.75 664.25C522.06 662.91 512.03 651.55 508.69 644.2C505.35 636.85 503.35 624.82 512.7 620.14Z" fill="#b8b8b8"/>
<path d="M488.64 696.33C492.65 690.98 511.37 688.31 516.71 692.32C522.06 696.33 524.73 715.04 520.72 720.38C516.71 725.73 498 728.4 492.65 724.39C487.31 720.38 484.64 701.67 488.64 696.33Z" fill="#b8b8b8"/>
<path d="M632.99 712.37C638.34 706.35 665.74 703.68 673.09 708.36C680.44 713.03 682.44 734.42 677.1 740.43C671.75 746.45 648.36 749.12 641.01 744.44C633.66 739.76 627.65 718.38 632.99 712.37Z" fill="#b8b8b8"/>
<path d="M580.87 736.42C586.21 725.73 612.94 727.07 620.96 732.41C628.98 737.76 628.98 757.81 628.98 768.5C628.98 779.19 627.65 791.89 620.96 796.57C614.28 801.25 595.57 806.59 588.89 796.57C582.2 786.54 575.52 747.12 580.87 736.42Z" fill="#b8b8b8"/>
<path d="M492.65 824.64C503.35 817.95 552.13 815.28 564.83 820.63C577.52 825.97 579.53 850.03 568.84 856.71C558.14 863.39 513.37 866.07 500.67 860.72C487.98 855.38 481.96 831.32 492.65 824.64Z" fill="#b8b8b8"/>
<path d="M594.9 778.52C598.91 775.52 616.62 775.52 620.96 778.52C625.31 781.53 624.97 793.56 620.96 796.57C616.95 799.57 601.25 799.57 596.9 796.57C592.56 793.56 590.89 781.53 594.9 778.52Z" fill="#f2f2f2"/>
<path d="M645.02 718.38C648.36 715.37 663.4 713.7 667.07 716.38C670.75 719.05 670.41 731.41 667.07 734.42C663.73 737.43 650.7 737.09 647.02 734.42C643.35 731.75 641.68 721.39 645.02 718.38Z" fill="#f2f2f2"/>
<path d="M544.78 828.64C547.45 826.31 558.14 826.31 560.82 828.64C563.49 830.98 563.49 840.34 560.82 842.68C558.14 845.02 547.45 845.02 544.78 842.68C542.11 840.34 542.11 830.98 544.78 828.64Z" fill="#f2f2f2"/>
<path d="M768.5 620.63C772.51 614.61 794.56 619.29 800.58 624.64C806.59 629.98 808.6 646.69 804.59 652.7C800.58 658.72 782.53 666.07 776.52 660.72C770.51 655.38 764.49 626.64 768.5 620.63Z" fill="#b8b8b8"/>
<path d="M780.53 640.67C783.54 638 795.57 638 798.57 640.67C801.58 643.35 801.58 654.04 798.57 656.71C795.57 659.39 783.54 659.39 780.53 656.71C777.52 654.04 777.52 643.35 780.53 640.67Z" fill="#f2f2f2"/>
<path d="M1013.09 456.23C1004.4 461.58 992.37 478.95 981.01 492.32C969.65 505.68 954.95 523.06 944.92 536.42C934.9 549.79 931.56 558.48 920.87 572.51C910.17 586.54 894.14 605.26 880.77 620.63C867.4 636 851.37 654.71 840.67 664.73C829.98 674.76 825.97 674.09 816.62 680.77C807.26 687.45 792.56 695.47 784.54 704.83C776.52 714.18 777.86 727.55 768.5 736.9C759.14 746.26 741.1 752.94 728.4 760.96C715.71 768.98 700.34 775.66 692.32 785.02C684.3 794.38 685.63 804.6 680.29 817.1C674.94 829.59 652.22 852.85 660.24 860C668.26 867.15 666.26 926.63 728.4 860C790.55 793.37 985.69 527.54 1033.14 460.24C1080.58 392.95 1021.77 450.88 1013.09 456.23Z" fill="#252525"/>
<path d="M600 290C615 286.67 643.33 291.67 660 300C676.67 308.33 690 325 700 340C710 355 723.33 376.67 720 390C716.67 403.33 696.67 418.33 680 420C663.33 421.67 636.67 410 620 400C603.33 390 588.33 373.33 580 360C571.67 346.67 566.67 331.67 570 320C573.33 308.33 585 293.33 600 290Z" fill="#1a1a1a"/>
<path d="M560 930C573.33 916.67 616.67 900 640 900C663.33 900 693.33 915 700 930C706.67 945 696.67 976.67 680 990C663.33 1003.33 620 1011.67 600 1010C580 1008.33 566.67 993.33 560 980C553.33 966.67 546.67 943.33 560 930Z" fill="#1a1a1a"/>
<path d="M480 440C483.33 426.67 506.67 418.33 520 420C533.33 421.67 556.67 436.67 560 450C563.33 463.33 550 491.67 540 500C530 508.33 510 510 500 500C490 490 476.67 453.33 480 440Z" fill="#1a1a1a"/>
</g></g></g>
</g></g>
<polygon points="1437,995.2 1746.4,868.6 1903.4,963.6 1594,1090" fill="none" stroke="#ffe9c8" stroke-width="1.2" stroke-opacity="0.9"/>
<polygon points="1529.6,832.5 1630.8,784.5 1675.2,739 1755.7,764.9 1838.5,733.1 1875.8,735.7 1875.8,949.2 1838.5,946.6 1755.7,978.4 1675.2,952.5 1630.8,998 1529.6,1046" fill="#fe7a14"/>
<g clip-path="url(#fsu0)">
<g transform="translate(1529.6 832) rotate(-25.3754) translate(-50 0)" filter="url(#fencef)"><g filter="url(#fblur)">
<rect x="-45.71" y="-2.71" width="211.72" height="198.77" fill="#797979"/>
<rect x="-45.71" y="0" width="211.72" height="5.42" fill="#333333"/>
<rect x="-45.71" y="5.42" width="211.72" height="30.72" fill="#797979"/>
<rect x="-45.71" y="36.14" width="211.72" height="16.26" fill="#333333"/>
<rect x="-45.71" y="52.4" width="211.72" height="46.98" fill="#797979"/>
<rect x="-45.71" y="99.39" width="211.72" height="14.46" fill="#333333"/>
<rect x="-45.71" y="113.84" width="211.72" height="41.56" fill="#797979"/>
<rect x="-45.71" y="155.41" width="211.72" height="14.46" fill="#333333"/>
<rect x="-45.71" y="177.09" width="211.72" height="16.26" fill="#333333"/>
<rect x="-45.71" y="193.35" width="211.72" height="2.71" fill="#797979"/>
<rect x="-45.71" y="26.29" width="211.72" height="1.63" fill="#a8a8a8"/>
<rect x="-45.71" y="60.63" width="211.72" height="1.63" fill="#a8a8a8"/>
<rect x="-45.71" y="87.82" width="211.72" height="1.45" fill="#a3a3a3"/>
<rect x="-45.71" y="122.07" width="211.72" height="1.63" fill="#a8a8a8"/>
<rect x="-45.71" y="145.65" width="211.72" height="1.45" fill="#a3a3a3"/>
<rect x="-45.71" y="40.12" width="211.72" height="4.7" fill="#bdbdbd"/>
<rect x="-45.71" y="41.29" width="211.72" height="2.35" fill="#d6d6d6"/>
<rect x="-45.71" y="170.67" width="211.72" height="5.6" fill="#bdbdbd"/>
<rect x="-45.71" y="171.85" width="211.72" height="3.25" fill="#f7f7f7"/>
</g></g></g>
<g clip-path="url(#fsu1)">
<g transform="translate(1630.8 784) rotate(-45.701) translate(-450 0)" filter="url(#fencef)"><g filter="url(#fblur)">
<rect x="292.84" y="-2.1" width="224.73" height="153.65" fill="#797979"/>
<rect x="292.84" y="0" width="224.73" height="4.19" fill="#333333"/>
<rect x="292.84" y="4.19" width="224.73" height="23.75" fill="#797979"/>
<rect x="292.84" y="27.94" width="224.73" height="12.57" fill="#333333"/>
<rect x="292.84" y="40.51" width="224.73" height="36.32" fill="#797979"/>
<rect x="292.84" y="76.82" width="224.73" height="11.17" fill="#333333"/>
<rect x="292.84" y="88" width="224.73" height="32.13" fill="#797979"/>
<rect x="292.84" y="120.13" width="224.73" height="11.17" fill="#333333"/>
<rect x="292.84" y="136.89" width="224.73" height="12.57" fill="#333333"/>
<rect x="292.84" y="149.46" width="224.73" height="2.1" fill="#797979"/>
<rect x="292.84" y="20.32" width="224.73" height="1.26" fill="#a8a8a8"/>
<rect x="292.84" y="46.86" width="224.73" height="1.26" fill="#a8a8a8"/>
<rect x="292.84" y="67.88" width="224.73" height="1.12" fill="#a3a3a3"/>
<rect x="292.84" y="94.35" width="224.73" height="1.26" fill="#a8a8a8"/>
<rect x="292.84" y="112.58" width="224.73" height="1.12" fill="#a3a3a3"/>
<rect x="292.84" y="31.01" width="224.73" height="3.63" fill="#bdbdbd"/>
<rect x="292.84" y="31.92" width="224.73" height="1.82" fill="#d6d6d6"/>
<rect x="292.84" y="131.93" width="224.73" height="4.33" fill="#bdbdbd"/>
<rect x="292.84" y="132.84" width="224.73" height="2.51" fill="#f7f7f7"/>
</g></g></g>
<g clip-path="url(#fsu2)">
<g transform="translate(1675.2 738.5) rotate(17.835) translate(-850 0)" filter="url(#fencef)"><g filter="url(#fblur)">
<rect x="846" y="-2.86" width="158.11" height="209.43" fill="#797979"/>
<rect x="846" y="0" width="158.11" height="5.71" fill="#333333"/>
<rect x="846" y="5.71" width="158.11" height="32.37" fill="#797979"/>
<rect x="846" y="38.08" width="158.11" height="17.13" fill="#333333"/>
<rect x="846" y="55.21" width="158.11" height="49.5" fill="#797979"/>
<rect x="846" y="104.71" width="158.11" height="15.23" fill="#333333"/>
<rect x="846" y="119.94" width="158.11" height="43.79" fill="#797979"/>
<rect x="846" y="163.73" width="158.11" height="15.23" fill="#333333"/>
<rect x="846" y="186.58" width="158.11" height="17.13" fill="#333333"/>
<rect x="846" y="203.72" width="158.11" height="2.86" fill="#797979"/>
<rect x="846" y="27.7" width="158.11" height="1.71" fill="#a8a8a8"/>
<rect x="846" y="63.88" width="158.11" height="1.71" fill="#a8a8a8"/>
<rect x="846" y="92.53" width="158.11" height="1.52" fill="#a3a3a3"/>
<rect x="846" y="128.61" width="158.11" height="1.71" fill="#a8a8a8"/>
<rect x="846" y="153.45" width="158.11" height="1.52" fill="#a3a3a3"/>
<rect x="846" y="42.27" width="158.11" height="4.95" fill="#bdbdbd"/>
<rect x="846" y="43.5" width="158.11" height="2.48" fill="#d6d6d6"/>
<rect x="846" y="179.82" width="158.11" height="5.9" fill="#bdbdbd"/>
<rect x="846" y="181.06" width="158.11" height="3.43" fill="#f7f7f7"/>
</g></g></g>
<g clip-path="url(#fsu3)">
<g transform="translate(1755.7 764.4) rotate(-21.0097) translate(-1250 0)" filter="url(#fencef)"><g filter="url(#fblur)">
<rect x="1169.28" y="-2.8" width="173.42" height="205.37" fill="#797979"/>
<rect x="1169.28" y="0" width="173.42" height="5.6" fill="#333333"/>
<rect x="1169.28" y="5.6" width="173.42" height="31.74" fill="#797979"/>
<rect x="1169.28" y="37.34" width="173.42" height="16.8" fill="#333333"/>
<rect x="1169.28" y="54.14" width="173.42" height="48.54" fill="#797979"/>
<rect x="1169.28" y="102.69" width="173.42" height="14.94" fill="#333333"/>
<rect x="1169.28" y="117.62" width="173.42" height="42.94" fill="#797979"/>
<rect x="1169.28" y="160.57" width="173.42" height="14.94" fill="#333333"/>
<rect x="1169.28" y="182.97" width="173.42" height="16.8" fill="#333333"/>
<rect x="1169.28" y="199.77" width="173.42" height="2.8" fill="#797979"/>
<rect x="1169.28" y="27.17" width="173.42" height="1.68" fill="#a8a8a8"/>
<rect x="1169.28" y="62.64" width="173.42" height="1.68" fill="#a8a8a8"/>
<rect x="1169.28" y="90.74" width="173.42" height="1.49" fill="#a3a3a3"/>
<rect x="1169.28" y="126.12" width="173.42" height="1.68" fill="#a8a8a8"/>
<rect x="1169.28" y="150.48" width="173.42" height="1.49" fill="#a3a3a3"/>
<rect x="1169.28" y="41.45" width="173.42" height="4.85" fill="#bdbdbd"/>
<rect x="1169.28" y="42.66" width="173.42" height="2.43" fill="#d6d6d6"/>
<rect x="1169.28" y="176.34" width="173.42" height="5.79" fill="#bdbdbd"/>
<rect x="1169.28" y="177.56" width="173.42" height="3.36" fill="#f7f7f7"/>
</g></g></g>
<g clip-path="url(#fsu4)">
<g transform="translate(1838.5 732.6) rotate(3.9874) translate(-1650 0)" filter="url(#fencef)"><g filter="url(#fblur)">
<rect x="1646" y="-2.99" width="60.27" height="219.47" fill="#797979"/>
<rect x="1646" y="0" width="60.27" height="5.99" fill="#333333"/>
<rect x="1646" y="5.99" width="60.27" height="33.92" fill="#797979"/>
<rect x="1646" y="39.9" width="60.27" height="17.96" fill="#333333"/>
<rect x="1646" y="57.86" width="60.27" height="51.87" fill="#797979"/>
<rect x="1646" y="109.73" width="60.27" height="15.96" fill="#333333"/>
<rect x="1646" y="125.7" width="60.27" height="45.89" fill="#797979"/>
<rect x="1646" y="171.58" width="60.27" height="15.96" fill="#333333"/>
<rect x="1646" y="195.53" width="60.27" height="17.96" fill="#333333"/>
<rect x="1646" y="213.48" width="60.27" height="2.99" fill="#797979"/>
<rect x="1646" y="29.03" width="60.27" height="1.8" fill="#a8a8a8"/>
<rect x="1646" y="66.94" width="60.27" height="1.8" fill="#a8a8a8"/>
<rect x="1646" y="96.96" width="60.27" height="1.6" fill="#a3a3a3"/>
<rect x="1646" y="134.77" width="60.27" height="1.8" fill="#a8a8a8"/>
<rect x="1646" y="160.81" width="60.27" height="1.6" fill="#a3a3a3"/>
<rect x="1646" y="44.29" width="60.27" height="5.19" fill="#bdbdbd"/>
<rect x="1646" y="45.59" width="60.27" height="2.59" fill="#d6d6d6"/>
<rect x="1646" y="188.44" width="60.27" height="6.18" fill="#bdbdbd"/>
<rect x="1646" y="189.74" width="60.27" height="3.59" fill="#f7f7f7"/>
</g></g></g>
<path d="M1529.6 1046 L1529.6 832 L1630.8 784 L1675.2 738.5 L1755.7 764.4 L1838.5 732.6 L1875.8 735.2 L1875.8 1066.2" stroke="#fff3df" stroke-width="1.2" fill="none" stroke-opacity="0.85"/>
<path d="M1592.5 872.7 L1906.7 749.6 M1592.5 872.7 L1593.5 1204" stroke="#fff" stroke-width="2.6" fill="none" stroke-linecap="round"/>
<path d="M1438 780.6 L1592.5 872.7" stroke="#fff" stroke-width="1.6" fill="none"/>
<path d="M1630.8 783V1000.5M1675.2 737.5V953.7M1755.7 763.4V982.5M1838.5 731.6V943.8" stroke="#3fd41e" stroke-width="2.2" fill="none"/>
<circle cx="1630.8" cy="784" r="2.2" fill="#45e022"/><circle cx="1630.8" cy="831" r="2.2" fill="#45e022"/><circle cx="1630.8" cy="976" r="2.2" fill="#45e022"/><circle cx="1630.8" cy="998.5" r="2.2" fill="#45e022"/><circle cx="1675.2" cy="738.5" r="2.2" fill="#45e022"/><circle cx="1675.2" cy="785.5" r="2.2" fill="#45e022"/><circle cx="1675.2" cy="930.5" r="2.2" fill="#45e022"/><circle cx="1675.2" cy="951.7" r="2.2" fill="#45e022"/><circle cx="1755.7" cy="764.4" r="2.2" fill="#45e022"/><circle cx="1755.7" cy="811.4" r="2.2" fill="#45e022"/><circle cx="1755.7" cy="956.4" r="2.2" fill="#45e022"/><circle cx="1755.7" cy="980.5" r="2.2" fill="#45e022"/><circle cx="1838.5" cy="732.6" r="2.2" fill="#45e022"/><circle cx="1838.5" cy="779.6" r="2.2" fill="#45e022"/><circle cx="1838.5" cy="924.6" r="2.2" fill="#45e022"/><circle cx="1838.5" cy="941.8" r="2.2" fill="#45e022"/>
<text class="sans" x="1639.7" y="787.5" font-size="15.5" fill="#3ccf1c" textLength="72.5" lengthAdjust="spacingAndGlyphs" fill-opacity="0.75">Sawan-01</text>
<text class="sans" x="1683" y="741" font-size="15.5" fill="#3ee01e" textLength="75" lengthAdjust="spacingAndGlyphs">Sawan-14</text>
<text class="sans" x="1764.5" y="766.2" font-size="15.5" fill="#36c41a" textLength="74" lengthAdjust="spacingAndGlyphs" fill-opacity="0.8">Sawan-07</text>
<text class="sans" x="1845.7" y="733.2" font-size="15.5" fill="#3ee01e" textLength="74" lengthAdjust="spacingAndGlyphs">Sawan-08</text>
<text class="sans" x="1633.6" y="880" font-size="15.5" fill="#2a1fc0" textLength="90" lengthAdjust="spacingAndGlyphs">Lower_Goru</text>
<text class="sans" x="1759.3" y="863.3" font-size="15.5" fill="#2a1fc0" textLength="90" lengthAdjust="spacingAndGlyphs">Lower_Goru</text>
<text class="sans" x="1840.8" y="825" font-size="15.5" fill="#141492" textLength="90" lengthAdjust="spacingAndGlyphs" clip-path="url(#rgclip)">Lower_Goru</text>
<text class="sans" x="1760" y="961" font-size="15.5" fill="#2a1fc0" textLength="53" lengthAdjust="spacingAndGlyphs">C-Sand</text>
<text class="sans" x="1640" y="985.5" font-size="15.5" fill="#2a1fc0" textLength="48" lengthAdjust="spacingAndGlyphs">C-Sand</text>
<text class="sans" x="1843" y="932" font-size="15.5" fill="#141492" textLength="53" lengthAdjust="spacingAndGlyphs" clip-path="url(#rgclip)">C-Sand</text>
<text class="sans" x="1760" y="984.5" font-size="15.5" fill="#2626d0" textLength="32" lengthAdjust="spacingAndGlyphs" clip-path="url(#baseclip1)">Base</text>
<text class="sans" x="1640" y="1005" font-size="15.5" fill="#2626d0" textLength="32" lengthAdjust="spacingAndGlyphs" clip-path="url(#baseclip2)">Base</text>
<text class="sans" x="1380" y="791.5" font-size="16.5" fill="#fff" text-anchor="end" textLength="36.5" lengthAdjust="spacingAndGlyphs">1700</text>
<text class="sans" x="1380" y="824.57" font-size="16.5" fill="#fff" text-anchor="end" textLength="36.5" lengthAdjust="spacingAndGlyphs">1790</text>
<text class="sans" x="1380" y="857.64" font-size="16.5" fill="#fff" text-anchor="end" textLength="36.5" lengthAdjust="spacingAndGlyphs">1880</text>
<text class="sans" x="1380" y="890.71" font-size="16.5" fill="#fff" text-anchor="end" textLength="36.5" lengthAdjust="spacingAndGlyphs">1970</text>
<text class="sans" x="1380" y="923.78" font-size="16.5" fill="#fff" text-anchor="end" textLength="36.5" lengthAdjust="spacingAndGlyphs">2060</text>
<text class="sans" x="1380" y="956.85" font-size="16.5" fill="#fff" text-anchor="end" textLength="36.5" lengthAdjust="spacingAndGlyphs">2150</text>
<text class="sans" x="1380" y="989.92" font-size="16.5" fill="#fff" text-anchor="end" textLength="36.5" lengthAdjust="spacingAndGlyphs">2240</text>
<text class="sans" x="1380" y="1022.99" font-size="16.5" fill="#fff" text-anchor="end" textLength="36.5" lengthAdjust="spacingAndGlyphs">2330</text>
<text class="sans" x="1380" y="1056.06" font-size="16.5" fill="#fff" text-anchor="end" textLength="36.5" lengthAdjust="spacingAndGlyphs">2420</text>
<text class="sans" x="1380" y="1089.13" font-size="16.5" fill="#fff" text-anchor="end" textLength="36.5" lengthAdjust="spacingAndGlyphs">2510</text>
<text class="sans" x="1380" y="1122.2" font-size="16.5" fill="#fff" text-anchor="end" textLength="36.5" lengthAdjust="spacingAndGlyphs">2600</text>
<text class="sans" x="1936.5" y="761.2" font-size="16.5" fill="#fff" textLength="36" lengthAdjust="spacingAndGlyphs">1700</text>
<text class="sans" x="1936.5" y="794.4" font-size="16.5" fill="#fff" textLength="36" lengthAdjust="spacingAndGlyphs">1790</text>
<text class="sans" x="1936.5" y="827.6" font-size="16.5" fill="#fff" textLength="36" lengthAdjust="spacingAndGlyphs">1880</text>
<text class="sans" x="1936.5" y="860.8" font-size="16.5" fill="#fff" textLength="36" lengthAdjust="spacingAndGlyphs">1970</text>
<text class="sans" x="1936.5" y="894" font-size="16.5" fill="#fff" textLength="36" lengthAdjust="spacingAndGlyphs">2060</text>
<text class="sans" x="1936.5" y="927.2" font-size="16.5" fill="#fff" textLength="36" lengthAdjust="spacingAndGlyphs">2150</text>
<text class="sans" x="1936.5" y="960.4" font-size="16.5" fill="#fff" textLength="36" lengthAdjust="spacingAndGlyphs">2240</text>
<text class="sans" x="1936.5" y="993.6" font-size="16.5" fill="#fff" textLength="36" lengthAdjust="spacingAndGlyphs">2330</text>
<text class="sans" x="1936.5" y="1026.8" font-size="16.5" fill="#fff" textLength="36" lengthAdjust="spacingAndGlyphs">2420</text>
<text class="sans" x="1936.5" y="1060" font-size="16.5" fill="#fff" textLength="36" lengthAdjust="spacingAndGlyphs">2510</text>
<text class="sans" x="1936.5" y="1093.2" font-size="16.5" fill="#fff" textLength="36" lengthAdjust="spacingAndGlyphs">2600</text>
<text class="sans" x="1394" y="778.8" font-size="16.5" fill="#fff" text-anchor="end" textLength="29" lengthAdjust="spacingAndGlyphs">643</text>
<text class="sans" x="1468.7" y="737.8" font-size="16.5" fill="#fff" textLength="27" lengthAdjust="spacingAndGlyphs">717</text>
<text class="sans" x="1575" y="695.8" font-size="16.5" fill="#fff" textLength="28" lengthAdjust="spacingAndGlyphs">792</text>
<text class="sans" x="1678.8" y="654.8" font-size="16.5" fill="#fff" textLength="28" lengthAdjust="spacingAndGlyphs">867</text>
<text class="sans" x="1772.6" y="654.8" font-size="16.5" fill="#fff" textLength="36" lengthAdjust="spacingAndGlyphs" font-weight="bold">1030</text>
<text class="sans" x="1849" y="702.8" font-size="16.5" fill="#fff" textLength="27" lengthAdjust="spacingAndGlyphs">961</text>
<text class="sans" x="1927" y="748.5" font-size="16.5" fill="#fff" textLength="28" lengthAdjust="spacingAndGlyphs">893</text>
<text class="sans" x="1529" y="668.7" font-size="16.5" fill="#fff" textLength="41.5" lengthAdjust="spacingAndGlyphs" stroke="#fff" stroke-width="0.4">Inline</text>
<text class="sans" x="1910.7" y="693.5" font-size="16.5" fill="#fff" textLength="39.7" lengthAdjust="spacingAndGlyphs">Xline</text>
<text class="serif" transform="translate(1328.5 923) rotate(-90)" font-size="22" fill="#f4f4f4" text-anchor="middle" textLength="87" lengthAdjust="spacingAndGlyphs">TWT (ms)</text>
<path d="M1435.4 751V824" stroke="#d63fd6" stroke-width="1.8" fill="none"/>
<path d="M1430.5 764c3 -3 9 -3 13 -1c4 2 5 7 3 11l-5 9c-1 4 -3 9 -7 11c-3 1 -6 -1 -6 -4c1 -4 4 -6 4 -10c-3 -4 -5 -11 -2 -16z" fill="#f01616"/>
<circle cx="1433.5" cy="771.5" r="1.8" fill="#fff"/>
<text class="sans" x="1440.5" y="763.5" font-size="14" fill="#e8e020">N</text>
<text class="serif" x="1377.5" y="1218.2" font-size="50" fill="#fff">c)</text>
</g>
<g id="frame">
<rect x="4.85" y="4.85" width="1990.35" height="1237.05" fill="none" stroke="#000" stroke-width="4.2"/>
</g>
</svg>
</body>
</html>
